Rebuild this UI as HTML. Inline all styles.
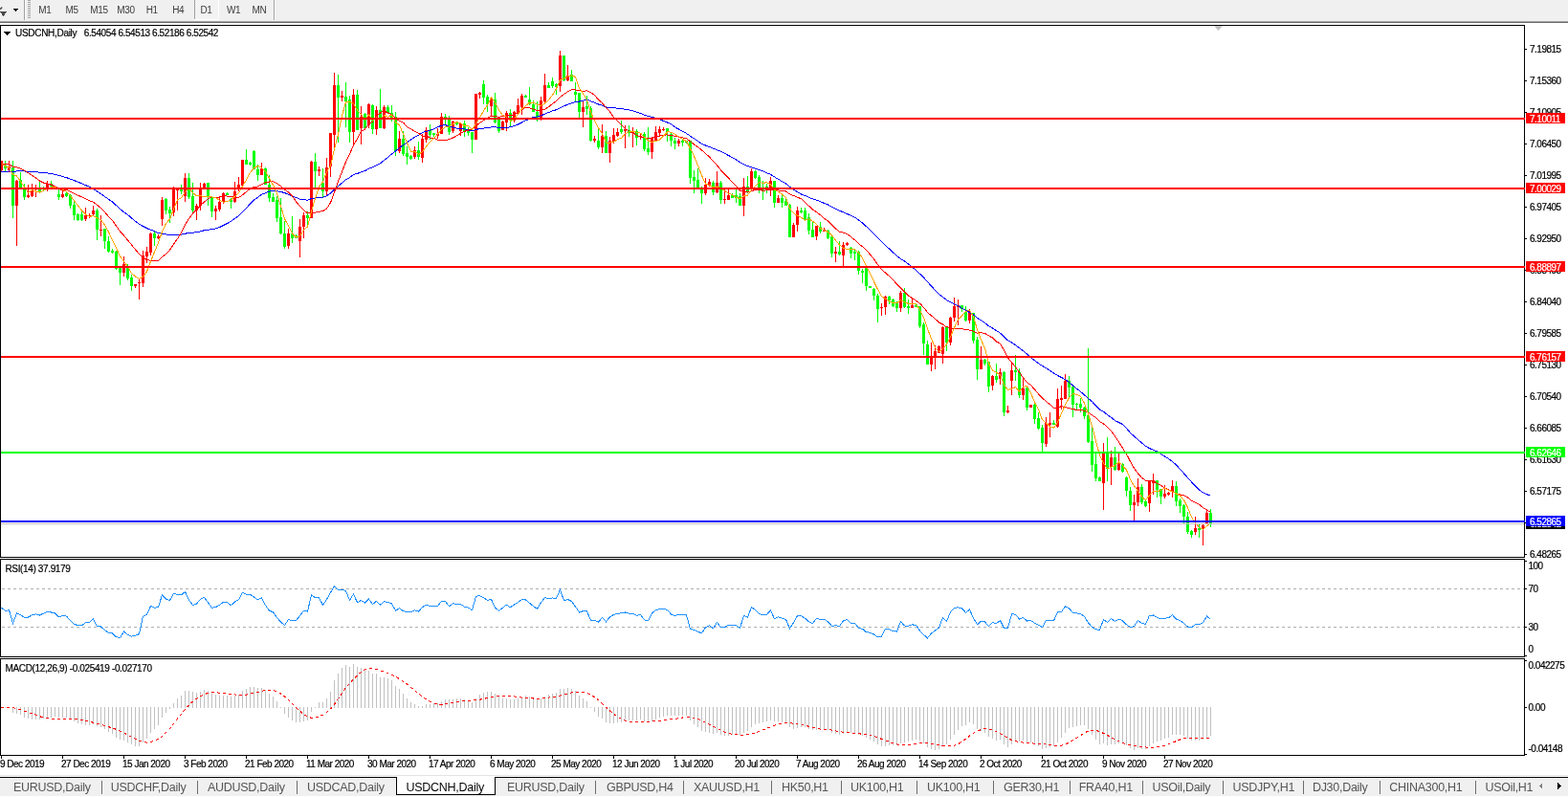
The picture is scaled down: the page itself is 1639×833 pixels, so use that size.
<!DOCTYPE html>
<html><head><meta charset="utf-8"><title>USDCNH,Daily</title>
<style>html,body{margin:0;padding:0;background:#fff;width:1639px;height:833px;overflow:hidden}svg{display:block;position:absolute;left:0;top:0}text{white-space:pre}</style>
</head><body><svg width="1639" height="833" viewBox="0 0 1639 833" shape-rendering="crispEdges" font-family="Liberation Sans, Arial, sans-serif"><rect x="0" y="0" width="1639" height="22" fill="#f0f0f0"/><rect x="0" y="22" width="1639" height="1" fill="#a3a3a3"/><rect x="0" y="23" width="1639" height="1" fill="#6b6b6b"/><path d="M0 12h7l-3.5 5z" fill="#4a4a4a"/><path d="M0 9.5q1.5-0.5 2-2" stroke="#4a4a4a" stroke-width="1.6" fill="none" shape-rendering="auto"/><rect x="14" y="9" width="5" height="1" fill="#000"/><rect x="15" y="10" width="3" height="1" fill="#000"/><rect x="16" y="11" width="1" height="1" fill="#000"/><rect x="25" y="0" width="1" height="21" fill="#a0a0a0"/><rect x="26" y="0" width="1" height="21" fill="#ffffff"/><rect x="29" y="0" width="3" height="1" fill="#a0a0a0"/><rect x="29" y="2" width="3" height="1" fill="#a0a0a0"/><rect x="29" y="4" width="3" height="1" fill="#a0a0a0"/><rect x="29" y="6" width="3" height="1" fill="#a0a0a0"/><rect x="29" y="8" width="3" height="1" fill="#a0a0a0"/><rect x="29" y="10" width="3" height="1" fill="#a0a0a0"/><rect x="29" y="12" width="3" height="1" fill="#a0a0a0"/><rect x="29" y="14" width="3" height="1" fill="#a0a0a0"/><rect x="29" y="16" width="3" height="1" fill="#a0a0a0"/><rect x="29" y="18" width="3" height="1" fill="#a0a0a0"/><rect x="203" y="0" width="1" height="20" fill="#a0a0a0"/><defs><pattern id="dith" width="2" height="2" patternUnits="userSpaceOnUse"><rect width="2" height="2" fill="#fafafa"/><rect width="1" height="1" fill="#ebebeb"/><rect x="1" y="1" width="1" height="1" fill="#ebebeb"/></pattern></defs><rect x="204" y="0" width="24" height="20" fill="url(#dith)"/><rect x="228" y="0" width="1" height="21" fill="#ffffff"/><rect x="203" y="20" width="26" height="1" fill="#ffffff"/><rect x="286" y="0" width="1" height="21" fill="#a0a0a0"/><rect x="287" y="0" width="1" height="21" fill="#ffffff"/><text x="40.3" y="14.3" fill="#3c3c3c" font-size="10" letter-spacing="-0.4">M1</text><text x="68.6" y="14.3" fill="#3c3c3c" font-size="10" letter-spacing="-0.4">M5</text><text x="94.3" y="14.3" fill="#3c3c3c" font-size="10" letter-spacing="-0.4">M15</text><text x="122.3" y="14.3" fill="#3c3c3c" font-size="10" letter-spacing="-0.4">M30</text><text x="152.8" y="14.3" fill="#3c3c3c" font-size="10" letter-spacing="-0.4">H1</text><text x="180.3" y="14.3" fill="#3c3c3c" font-size="10" letter-spacing="-0.4">H4</text><text x="209.5" y="14.3" fill="#3c3c3c" font-size="10" letter-spacing="-0.4">D1</text><text x="237" y="14.3" fill="#3c3c3c" font-size="10" letter-spacing="-0.4">W1</text><text x="263.6" y="14.3" fill="#3c3c3c" font-size="10" letter-spacing="-0.4">MN</text><path d="M4 33h7l-3.5 4z" fill="#000"/><text x="16" y="38" fill="#000" font-size="10" letter-spacing="-0.3" stroke="#000" stroke-width="0.2">USDCNH,Daily</text><text x="87.8" y="38" fill="#000" font-size="10" letter-spacing="-0.41" stroke="#000" stroke-width="0.2">6.54054 6.54513 6.52186 6.52542</text><path d="M1269 27h9l-4.5 5z" fill="#c0c0c0" shape-rendering="auto"/><g><rect x="1" y="168" width="1" height="11" fill="#ff0000"/><rect x="0" y="168" width="3" height="10" fill="#ff0000"/><rect x="5" y="168" width="1" height="12" fill="#00ff00"/><rect x="4" y="173" width="3" height="3" fill="#00ff00"/><rect x="9" y="168" width="1" height="12" fill="#ff0000"/><rect x="8" y="174" width="3" height="4" fill="#ff0000"/><rect x="13" y="168" width="1" height="60" fill="#00ff00"/><rect x="12" y="175" width="3" height="40" fill="#00ff00"/><rect x="17" y="188" width="1" height="69" fill="#ff0000"/><rect x="16" y="189" width="3" height="26" fill="#ff0000"/><rect x="21" y="180" width="1" height="16" fill="#00ff00"/><rect x="20" y="188" width="3" height="8" fill="#00ff00"/><rect x="25" y="192" width="1" height="17" fill="#00ff00"/><rect x="24" y="198" width="3" height="8" fill="#00ff00"/><rect x="29" y="193" width="1" height="14" fill="#ff0000"/><rect x="28" y="204" width="3" height="2" fill="#ff0000"/><rect x="33" y="192" width="1" height="14" fill="#ff0000"/><rect x="32" y="199" width="3" height="6" fill="#ff0000"/><rect x="37" y="193" width="1" height="13" fill="#ff0000"/><rect x="36" y="197" width="3" height="1" fill="#ff0000"/><rect x="41" y="190" width="1" height="11" fill="#00ff00"/><rect x="40" y="198" width="3" height="3" fill="#00ff00"/><rect x="45" y="195" width="1" height="4" fill="#00ff00"/><rect x="44" y="196" width="3" height="1" fill="#00ff00"/><rect x="49" y="189" width="1" height="11" fill="#ff0000"/><rect x="48" y="192" width="3" height="6" fill="#ff0000"/><rect x="53" y="189" width="1" height="6" fill="#00ff00"/><rect x="52" y="192" width="3" height="3" fill="#00ff00"/><rect x="57" y="194" width="1" height="4" fill="#00ff00"/><rect x="56" y="195" width="3" height="2" fill="#00ff00"/><rect x="61" y="198" width="1" height="11" fill="#00ff00"/><rect x="60" y="203" width="3" height="3" fill="#00ff00"/><rect x="65" y="198" width="1" height="9" fill="#ff0000"/><rect x="64" y="203" width="3" height="3" fill="#ff0000"/><rect x="69" y="201" width="1" height="5" fill="#00ff00"/><rect x="68" y="202" width="3" height="3" fill="#00ff00"/><rect x="73" y="203" width="1" height="15" fill="#00ff00"/><rect x="72" y="204" width="3" height="11" fill="#00ff00"/><rect x="77" y="209" width="1" height="21" fill="#00ff00"/><rect x="76" y="214" width="3" height="11" fill="#00ff00"/><rect x="81" y="223" width="1" height="8" fill="#00ff00"/><rect x="80" y="224" width="3" height="6" fill="#00ff00"/><rect x="85" y="219" width="1" height="12" fill="#00ff00"/><rect x="84" y="224" width="3" height="6" fill="#00ff00"/><rect x="89" y="217" width="1" height="14" fill="#ff0000"/><rect x="88" y="225" width="3" height="4" fill="#ff0000"/><rect x="93" y="223" width="1" height="5" fill="#ff0000"/><rect x="92" y="225" width="3" height="1" fill="#ff0000"/><rect x="97" y="215" width="1" height="11" fill="#ff0000"/><rect x="96" y="220" width="3" height="4" fill="#ff0000"/><rect x="101" y="218" width="1" height="33" fill="#00ff00"/><rect x="100" y="220" width="3" height="20" fill="#00ff00"/><rect x="105" y="225" width="1" height="22" fill="#ff0000"/><rect x="104" y="240" width="3" height="1" fill="#ff0000"/><rect x="109" y="239" width="1" height="21" fill="#00ff00"/><rect x="108" y="239" width="3" height="13" fill="#00ff00"/><rect x="113" y="247" width="1" height="17" fill="#00ff00"/><rect x="112" y="252" width="3" height="11" fill="#00ff00"/><rect x="117" y="260" width="1" height="5" fill="#00ff00"/><rect x="116" y="262" width="3" height="2" fill="#00ff00"/><rect x="121" y="262" width="1" height="20" fill="#00ff00"/><rect x="120" y="263" width="3" height="18" fill="#00ff00"/><rect x="125" y="280" width="1" height="18" fill="#00ff00"/><rect x="124" y="280" width="3" height="5" fill="#00ff00"/><rect x="129" y="268" width="1" height="21" fill="#ff0000"/><rect x="128" y="276" width="3" height="9" fill="#ff0000"/><rect x="133" y="276" width="1" height="17" fill="#00ff00"/><rect x="132" y="280" width="3" height="11" fill="#00ff00"/><rect x="137" y="287" width="1" height="17" fill="#00ff00"/><rect x="136" y="290" width="3" height="9" fill="#00ff00"/><rect x="141" y="297" width="1" height="4" fill="#ff0000"/><rect x="140" y="297" width="3" height="2" fill="#ff0000"/><rect x="145" y="291" width="1" height="22" fill="#ff0000"/><rect x="144" y="295" width="3" height="1" fill="#ff0000"/><rect x="149" y="262" width="1" height="38" fill="#ff0000"/><rect x="148" y="267" width="3" height="29" fill="#ff0000"/><rect x="153" y="258" width="1" height="17" fill="#ff0000"/><rect x="152" y="263" width="3" height="5" fill="#ff0000"/><rect x="157" y="243" width="1" height="24" fill="#ff0000"/><rect x="156" y="244" width="3" height="20" fill="#ff0000"/><rect x="161" y="242" width="1" height="15" fill="#00ff00"/><rect x="160" y="244" width="3" height="5" fill="#00ff00"/><rect x="165" y="245" width="1" height="5" fill="#ff0000"/><rect x="164" y="247" width="3" height="2" fill="#ff0000"/><rect x="169" y="206" width="1" height="30" fill="#ff0000"/><rect x="168" y="209" width="3" height="20" fill="#ff0000"/><rect x="173" y="207" width="1" height="17" fill="#00ff00"/><rect x="172" y="208" width="3" height="12" fill="#00ff00"/><rect x="177" y="216" width="1" height="17" fill="#00ff00"/><rect x="176" y="219" width="3" height="4" fill="#00ff00"/><rect x="181" y="195" width="1" height="31" fill="#ff0000"/><rect x="180" y="196" width="3" height="26" fill="#ff0000"/><rect x="185" y="198" width="1" height="22" fill="#ff0000"/><rect x="184" y="198" width="3" height="1" fill="#ff0000"/><rect x="189" y="193" width="1" height="10" fill="#00ff00"/><rect x="188" y="198" width="3" height="2" fill="#00ff00"/><rect x="193" y="181" width="1" height="30" fill="#ff0000"/><rect x="192" y="186" width="3" height="19" fill="#ff0000"/><rect x="197" y="181" width="1" height="27" fill="#00ff00"/><rect x="196" y="186" width="3" height="20" fill="#00ff00"/><rect x="201" y="191" width="1" height="32" fill="#00ff00"/><rect x="200" y="205" width="3" height="15" fill="#00ff00"/><rect x="205" y="213" width="1" height="17" fill="#ff0000"/><rect x="204" y="215" width="3" height="5" fill="#ff0000"/><rect x="209" y="191" width="1" height="29" fill="#ff0000"/><rect x="208" y="198" width="3" height="17" fill="#ff0000"/><rect x="213" y="191" width="1" height="6" fill="#ff0000"/><rect x="212" y="192" width="3" height="5" fill="#ff0000"/><rect x="217" y="191" width="1" height="24" fill="#00ff00"/><rect x="216" y="191" width="3" height="15" fill="#00ff00"/><rect x="221" y="205" width="1" height="22" fill="#00ff00"/><rect x="220" y="206" width="3" height="15" fill="#00ff00"/><rect x="225" y="215" width="1" height="15" fill="#ff0000"/><rect x="224" y="218" width="3" height="3" fill="#ff0000"/><rect x="229" y="205" width="1" height="16" fill="#ff0000"/><rect x="228" y="211" width="3" height="8" fill="#ff0000"/><rect x="233" y="201" width="1" height="12" fill="#ff0000"/><rect x="232" y="202" width="3" height="9" fill="#ff0000"/><rect x="237" y="201" width="1" height="3" fill="#00ff00"/><rect x="236" y="202" width="3" height="2" fill="#00ff00"/><rect x="241" y="207" width="1" height="11" fill="#00ff00"/><rect x="240" y="208" width="3" height="3" fill="#00ff00"/><rect x="245" y="190" width="1" height="22" fill="#ff0000"/><rect x="244" y="200" width="3" height="11" fill="#ff0000"/><rect x="249" y="185" width="1" height="15" fill="#ff0000"/><rect x="248" y="193" width="3" height="5" fill="#ff0000"/><rect x="253" y="167" width="1" height="27" fill="#ff0000"/><rect x="252" y="167" width="3" height="27" fill="#ff0000"/><rect x="257" y="156" width="1" height="16" fill="#00ff00"/><rect x="256" y="167" width="3" height="5" fill="#00ff00"/><rect x="261" y="169" width="1" height="4" fill="#00ff00"/><rect x="260" y="170" width="3" height="2" fill="#00ff00"/><rect x="265" y="157" width="1" height="20" fill="#00ff00"/><rect x="264" y="158" width="3" height="19" fill="#00ff00"/><rect x="269" y="172" width="1" height="17" fill="#00ff00"/><rect x="268" y="177" width="3" height="6" fill="#00ff00"/><rect x="273" y="170" width="1" height="13" fill="#ff0000"/><rect x="272" y="176" width="3" height="7" fill="#ff0000"/><rect x="277" y="175" width="1" height="18" fill="#00ff00"/><rect x="276" y="176" width="3" height="17" fill="#00ff00"/><rect x="281" y="183" width="1" height="28" fill="#00ff00"/><rect x="280" y="193" width="3" height="14" fill="#00ff00"/><rect x="285" y="202" width="1" height="9" fill="#00ff00"/><rect x="284" y="206" width="3" height="5" fill="#00ff00"/><rect x="289" y="205" width="1" height="27" fill="#00ff00"/><rect x="288" y="209" width="3" height="19" fill="#00ff00"/><rect x="293" y="207" width="1" height="38" fill="#00ff00"/><rect x="292" y="227" width="3" height="17" fill="#00ff00"/><rect x="297" y="231" width="1" height="29" fill="#00ff00"/><rect x="296" y="244" width="3" height="14" fill="#00ff00"/><rect x="301" y="239" width="1" height="21" fill="#ff0000"/><rect x="300" y="244" width="3" height="13" fill="#ff0000"/><rect x="305" y="226" width="1" height="28" fill="#00ff00"/><rect x="304" y="244" width="3" height="5" fill="#00ff00"/><rect x="309" y="245" width="1" height="4" fill="#00ff00"/><rect x="308" y="246" width="3" height="3" fill="#00ff00"/><rect x="313" y="229" width="1" height="40" fill="#ff0000"/><rect x="312" y="237" width="3" height="15" fill="#ff0000"/><rect x="317" y="222" width="1" height="27" fill="#ff0000"/><rect x="316" y="225" width="3" height="12" fill="#ff0000"/><rect x="321" y="221" width="1" height="14" fill="#00ff00"/><rect x="320" y="225" width="3" height="3" fill="#00ff00"/><rect x="325" y="168" width="1" height="60" fill="#ff0000"/><rect x="324" y="169" width="3" height="59" fill="#ff0000"/><rect x="329" y="160" width="1" height="38" fill="#00ff00"/><rect x="328" y="169" width="3" height="10" fill="#00ff00"/><rect x="333" y="174" width="1" height="10" fill="#ff0000"/><rect x="332" y="177" width="3" height="2" fill="#ff0000"/><rect x="337" y="176" width="1" height="30" fill="#00ff00"/><rect x="336" y="191" width="3" height="9" fill="#00ff00"/><rect x="341" y="165" width="1" height="40" fill="#ff0000"/><rect x="340" y="175" width="3" height="25" fill="#ff0000"/><rect x="345" y="139" width="1" height="46" fill="#ff0000"/><rect x="344" y="139" width="3" height="35" fill="#ff0000"/><rect x="349" y="76" width="1" height="79" fill="#ff0000"/><rect x="348" y="89" width="3" height="52" fill="#ff0000"/><rect x="353" y="78" width="1" height="71" fill="#00ff00"/><rect x="352" y="89" width="3" height="13" fill="#00ff00"/><rect x="357" y="95" width="1" height="11" fill="#ff0000"/><rect x="356" y="100" width="3" height="2" fill="#ff0000"/><rect x="361" y="86" width="1" height="47" fill="#00ff00"/><rect x="360" y="101" width="3" height="5" fill="#00ff00"/><rect x="365" y="100" width="1" height="49" fill="#00ff00"/><rect x="364" y="104" width="3" height="34" fill="#00ff00"/><rect x="369" y="93" width="1" height="59" fill="#ff0000"/><rect x="368" y="99" width="3" height="39" fill="#ff0000"/><rect x="373" y="94" width="1" height="42" fill="#00ff00"/><rect x="372" y="99" width="3" height="37" fill="#00ff00"/><rect x="377" y="111" width="1" height="40" fill="#ff0000"/><rect x="376" y="122" width="3" height="12" fill="#ff0000"/><rect x="381" y="118" width="1" height="16" fill="#00ff00"/><rect x="380" y="119" width="3" height="15" fill="#00ff00"/><rect x="385" y="108" width="1" height="26" fill="#ff0000"/><rect x="384" y="109" width="3" height="22" fill="#ff0000"/><rect x="389" y="109" width="1" height="31" fill="#00ff00"/><rect x="388" y="110" width="3" height="25" fill="#00ff00"/><rect x="393" y="111" width="1" height="30" fill="#ff0000"/><rect x="392" y="115" width="3" height="20" fill="#ff0000"/><rect x="397" y="93" width="1" height="41" fill="#00ff00"/><rect x="396" y="115" width="3" height="19" fill="#00ff00"/><rect x="401" y="110" width="1" height="25" fill="#ff0000"/><rect x="400" y="112" width="3" height="22" fill="#ff0000"/><rect x="405" y="110" width="1" height="9" fill="#00ff00"/><rect x="404" y="112" width="3" height="6" fill="#00ff00"/><rect x="409" y="110" width="1" height="17" fill="#00ff00"/><rect x="408" y="118" width="3" height="5" fill="#00ff00"/><rect x="413" y="117" width="1" height="46" fill="#00ff00"/><rect x="412" y="122" width="3" height="36" fill="#00ff00"/><rect x="417" y="137" width="1" height="23" fill="#ff0000"/><rect x="416" y="145" width="3" height="13" fill="#ff0000"/><rect x="421" y="137" width="1" height="26" fill="#00ff00"/><rect x="420" y="145" width="3" height="16" fill="#00ff00"/><rect x="425" y="153" width="1" height="19" fill="#00ff00"/><rect x="424" y="160" width="3" height="4" fill="#00ff00"/><rect x="429" y="162" width="1" height="5" fill="#00ff00"/><rect x="428" y="163" width="3" height="3" fill="#00ff00"/><rect x="433" y="153" width="1" height="13" fill="#ff0000"/><rect x="432" y="157" width="3" height="7" fill="#ff0000"/><rect x="437" y="148" width="1" height="19" fill="#00ff00"/><rect x="436" y="157" width="3" height="7" fill="#00ff00"/><rect x="441" y="140" width="1" height="30" fill="#ff0000"/><rect x="440" y="145" width="3" height="20" fill="#ff0000"/><rect x="445" y="133" width="1" height="16" fill="#ff0000"/><rect x="444" y="136" width="3" height="10" fill="#ff0000"/><rect x="449" y="130" width="1" height="16" fill="#00ff00"/><rect x="448" y="136" width="3" height="5" fill="#00ff00"/><rect x="453" y="139" width="1" height="4" fill="#00ff00"/><rect x="452" y="139" width="3" height="2" fill="#00ff00"/><rect x="457" y="134" width="1" height="11" fill="#ff0000"/><rect x="456" y="140" width="3" height="2" fill="#ff0000"/><rect x="461" y="118" width="1" height="22" fill="#ff0000"/><rect x="460" y="122" width="3" height="18" fill="#ff0000"/><rect x="465" y="119" width="1" height="11" fill="#00ff00"/><rect x="464" y="122" width="3" height="1" fill="#00ff00"/><rect x="469" y="121" width="1" height="20" fill="#00ff00"/><rect x="468" y="125" width="3" height="13" fill="#00ff00"/><rect x="473" y="126" width="1" height="13" fill="#ff0000"/><rect x="472" y="127" width="3" height="10" fill="#ff0000"/><rect x="477" y="127" width="1" height="4" fill="#00ff00"/><rect x="476" y="128" width="3" height="2" fill="#00ff00"/><rect x="481" y="128" width="1" height="14" fill="#ff0000"/><rect x="480" y="129" width="3" height="8" fill="#ff0000"/><rect x="485" y="126" width="1" height="17" fill="#00ff00"/><rect x="484" y="129" width="3" height="8" fill="#00ff00"/><rect x="489" y="133" width="1" height="9" fill="#00ff00"/><rect x="488" y="136" width="3" height="3" fill="#00ff00"/><rect x="493" y="138" width="1" height="22" fill="#00ff00"/><rect x="492" y="138" width="3" height="8" fill="#00ff00"/><rect x="497" y="98" width="1" height="48" fill="#ff0000"/><rect x="496" y="98" width="3" height="48" fill="#ff0000"/><rect x="501" y="96" width="1" height="7" fill="#ff0000"/><rect x="500" y="97" width="3" height="2" fill="#ff0000"/><rect x="505" y="84" width="1" height="25" fill="#00ff00"/><rect x="504" y="88" width="3" height="14" fill="#00ff00"/><rect x="509" y="99" width="1" height="18" fill="#00ff00"/><rect x="508" y="101" width="3" height="8" fill="#00ff00"/><rect x="513" y="102" width="1" height="20" fill="#ff0000"/><rect x="512" y="104" width="3" height="7" fill="#ff0000"/><rect x="517" y="97" width="1" height="32" fill="#00ff00"/><rect x="516" y="104" width="3" height="24" fill="#00ff00"/><rect x="521" y="125" width="1" height="14" fill="#00ff00"/><rect x="520" y="125" width="3" height="12" fill="#00ff00"/><rect x="525" y="126" width="1" height="10" fill="#ff0000"/><rect x="524" y="127" width="3" height="9" fill="#ff0000"/><rect x="529" y="116" width="1" height="21" fill="#ff0000"/><rect x="528" y="118" width="3" height="10" fill="#ff0000"/><rect x="533" y="114" width="1" height="19" fill="#00ff00"/><rect x="532" y="118" width="3" height="8" fill="#00ff00"/><rect x="537" y="116" width="1" height="12" fill="#ff0000"/><rect x="536" y="117" width="3" height="9" fill="#ff0000"/><rect x="541" y="103" width="1" height="17" fill="#ff0000"/><rect x="540" y="110" width="3" height="9" fill="#ff0000"/><rect x="545" y="98" width="1" height="22" fill="#ff0000"/><rect x="544" y="100" width="3" height="12" fill="#ff0000"/><rect x="549" y="99" width="1" height="3" fill="#00ff00"/><rect x="548" y="100" width="3" height="2" fill="#00ff00"/><rect x="553" y="91" width="1" height="19" fill="#00ff00"/><rect x="552" y="104" width="3" height="5" fill="#00ff00"/><rect x="557" y="105" width="1" height="12" fill="#00ff00"/><rect x="556" y="109" width="3" height="8" fill="#00ff00"/><rect x="561" y="106" width="1" height="21" fill="#00ff00"/><rect x="560" y="117" width="3" height="6" fill="#00ff00"/><rect x="565" y="101" width="1" height="25" fill="#ff0000"/><rect x="564" y="105" width="3" height="18" fill="#ff0000"/><rect x="569" y="77" width="1" height="31" fill="#ff0000"/><rect x="568" y="89" width="3" height="17" fill="#ff0000"/><rect x="573" y="86" width="1" height="6" fill="#00ff00"/><rect x="572" y="89" width="3" height="3" fill="#00ff00"/><rect x="577" y="81" width="1" height="11" fill="#00ff00"/><rect x="576" y="85" width="3" height="5" fill="#00ff00"/><rect x="581" y="87" width="1" height="12" fill="#00ff00"/><rect x="580" y="88" width="3" height="3" fill="#00ff00"/><rect x="585" y="53" width="1" height="43" fill="#ff0000"/><rect x="584" y="58" width="3" height="32" fill="#ff0000"/><rect x="589" y="58" width="1" height="27" fill="#00ff00"/><rect x="588" y="58" width="3" height="26" fill="#00ff00"/><rect x="593" y="68" width="1" height="17" fill="#ff0000"/><rect x="592" y="79" width="3" height="5" fill="#ff0000"/><rect x="597" y="73" width="1" height="12" fill="#00ff00"/><rect x="596" y="78" width="3" height="7" fill="#00ff00"/><rect x="601" y="86" width="1" height="20" fill="#00ff00"/><rect x="600" y="96" width="3" height="3" fill="#00ff00"/><rect x="605" y="97" width="1" height="26" fill="#00ff00"/><rect x="604" y="97" width="3" height="20" fill="#00ff00"/><rect x="609" y="105" width="1" height="28" fill="#ff0000"/><rect x="608" y="112" width="3" height="5" fill="#ff0000"/><rect x="613" y="100" width="1" height="20" fill="#00ff00"/><rect x="612" y="111" width="3" height="3" fill="#00ff00"/><rect x="617" y="111" width="1" height="37" fill="#00ff00"/><rect x="616" y="113" width="3" height="34" fill="#00ff00"/><rect x="621" y="142" width="1" height="7" fill="#ff0000"/><rect x="620" y="145" width="3" height="2" fill="#ff0000"/><rect x="625" y="135" width="1" height="21" fill="#00ff00"/><rect x="624" y="147" width="3" height="7" fill="#00ff00"/><rect x="629" y="130" width="1" height="30" fill="#ff0000"/><rect x="628" y="142" width="3" height="12" fill="#ff0000"/><rect x="633" y="137" width="1" height="23" fill="#00ff00"/><rect x="632" y="142" width="3" height="18" fill="#00ff00"/><rect x="637" y="143" width="1" height="27" fill="#ff0000"/><rect x="636" y="147" width="3" height="13" fill="#ff0000"/><rect x="641" y="134" width="1" height="16" fill="#ff0000"/><rect x="640" y="141" width="3" height="7" fill="#ff0000"/><rect x="645" y="134" width="1" height="9" fill="#ff0000"/><rect x="644" y="138" width="3" height="4" fill="#ff0000"/><rect x="649" y="126" width="1" height="14" fill="#00ff00"/><rect x="648" y="135" width="3" height="3" fill="#00ff00"/><rect x="653" y="131" width="1" height="24" fill="#ff0000"/><rect x="652" y="135" width="3" height="2" fill="#ff0000"/><rect x="657" y="131" width="1" height="12" fill="#00ff00"/><rect x="656" y="136" width="3" height="3" fill="#00ff00"/><rect x="661" y="133" width="1" height="21" fill="#ff0000"/><rect x="660" y="138" width="3" height="1" fill="#ff0000"/><rect x="665" y="135" width="1" height="17" fill="#00ff00"/><rect x="664" y="137" width="3" height="7" fill="#00ff00"/><rect x="669" y="140" width="1" height="6" fill="#ff0000"/><rect x="668" y="142" width="3" height="1" fill="#ff0000"/><rect x="673" y="138" width="1" height="20" fill="#00ff00"/><rect x="672" y="140" width="3" height="16" fill="#00ff00"/><rect x="677" y="133" width="1" height="29" fill="#00ff00"/><rect x="676" y="155" width="3" height="4" fill="#00ff00"/><rect x="681" y="143" width="1" height="23" fill="#ff0000"/><rect x="680" y="144" width="3" height="15" fill="#ff0000"/><rect x="685" y="132" width="1" height="15" fill="#ff0000"/><rect x="684" y="138" width="3" height="9" fill="#ff0000"/><rect x="689" y="132" width="1" height="10" fill="#ff0000"/><rect x="688" y="135" width="3" height="4" fill="#ff0000"/><rect x="693" y="133" width="1" height="4" fill="#ff0000"/><rect x="692" y="135" width="3" height="1" fill="#ff0000"/><rect x="697" y="134" width="1" height="14" fill="#00ff00"/><rect x="696" y="134" width="3" height="4" fill="#00ff00"/><rect x="701" y="139" width="1" height="14" fill="#00ff00"/><rect x="700" y="140" width="3" height="7" fill="#00ff00"/><rect x="705" y="144" width="1" height="12" fill="#00ff00"/><rect x="704" y="147" width="3" height="3" fill="#00ff00"/><rect x="709" y="145" width="1" height="8" fill="#ff0000"/><rect x="708" y="147" width="3" height="3" fill="#ff0000"/><rect x="713" y="145" width="1" height="8" fill="#00ff00"/><rect x="712" y="147" width="3" height="2" fill="#00ff00"/><rect x="717" y="147" width="1" height="3" fill="#00ff00"/><rect x="716" y="147" width="3" height="2" fill="#00ff00"/><rect x="721" y="147" width="1" height="45" fill="#00ff00"/><rect x="720" y="147" width="3" height="39" fill="#00ff00"/><rect x="725" y="178" width="1" height="24" fill="#00ff00"/><rect x="724" y="185" width="3" height="4" fill="#00ff00"/><rect x="729" y="176" width="1" height="21" fill="#00ff00"/><rect x="728" y="188" width="3" height="8" fill="#00ff00"/><rect x="733" y="195" width="1" height="18" fill="#00ff00"/><rect x="732" y="198" width="3" height="4" fill="#00ff00"/><rect x="737" y="186" width="1" height="18" fill="#ff0000"/><rect x="736" y="193" width="3" height="9" fill="#ff0000"/><rect x="741" y="187" width="1" height="8" fill="#ff0000"/><rect x="740" y="190" width="3" height="4" fill="#ff0000"/><rect x="745" y="189" width="1" height="15" fill="#00ff00"/><rect x="744" y="191" width="3" height="10" fill="#00ff00"/><rect x="749" y="179" width="1" height="23" fill="#ff0000"/><rect x="748" y="191" width="3" height="10" fill="#ff0000"/><rect x="753" y="189" width="1" height="24" fill="#00ff00"/><rect x="752" y="191" width="3" height="18" fill="#00ff00"/><rect x="757" y="198" width="1" height="15" fill="#ff0000"/><rect x="756" y="208" width="3" height="1" fill="#ff0000"/><rect x="761" y="198" width="1" height="11" fill="#ff0000"/><rect x="760" y="204" width="3" height="5" fill="#ff0000"/><rect x="765" y="202" width="1" height="5" fill="#00ff00"/><rect x="764" y="204" width="3" height="3" fill="#00ff00"/><rect x="769" y="198" width="1" height="14" fill="#00ff00"/><rect x="768" y="204" width="3" height="3" fill="#00ff00"/><rect x="773" y="202" width="1" height="13" fill="#00ff00"/><rect x="772" y="205" width="3" height="10" fill="#00ff00"/><rect x="777" y="186" width="1" height="40" fill="#ff0000"/><rect x="776" y="195" width="3" height="20" fill="#ff0000"/><rect x="781" y="184" width="1" height="18" fill="#00ff00"/><rect x="780" y="195" width="3" height="5" fill="#00ff00"/><rect x="785" y="176" width="1" height="23" fill="#ff0000"/><rect x="784" y="179" width="3" height="19" fill="#ff0000"/><rect x="789" y="178" width="1" height="9" fill="#00ff00"/><rect x="788" y="179" width="3" height="7" fill="#00ff00"/><rect x="793" y="183" width="1" height="19" fill="#00ff00"/><rect x="792" y="185" width="3" height="11" fill="#00ff00"/><rect x="797" y="189" width="1" height="20" fill="#00ff00"/><rect x="796" y="197" width="3" height="2" fill="#00ff00"/><rect x="801" y="192" width="1" height="10" fill="#00ff00"/><rect x="800" y="195" width="3" height="3" fill="#00ff00"/><rect x="805" y="185" width="1" height="20" fill="#ff0000"/><rect x="804" y="189" width="3" height="10" fill="#ff0000"/><rect x="809" y="189" width="1" height="28" fill="#00ff00"/><rect x="808" y="189" width="3" height="23" fill="#00ff00"/><rect x="813" y="204" width="1" height="8" fill="#ff0000"/><rect x="812" y="207" width="3" height="5" fill="#ff0000"/><rect x="817" y="204" width="1" height="13" fill="#00ff00"/><rect x="816" y="207" width="3" height="5" fill="#00ff00"/><rect x="821" y="207" width="1" height="8" fill="#00ff00"/><rect x="820" y="210" width="3" height="5" fill="#00ff00"/><rect x="825" y="213" width="1" height="35" fill="#00ff00"/><rect x="824" y="214" width="3" height="34" fill="#00ff00"/><rect x="829" y="233" width="1" height="15" fill="#ff0000"/><rect x="828" y="235" width="3" height="13" fill="#ff0000"/><rect x="833" y="216" width="1" height="26" fill="#ff0000"/><rect x="832" y="220" width="3" height="15" fill="#ff0000"/><rect x="837" y="217" width="1" height="6" fill="#00ff00"/><rect x="836" y="220" width="3" height="2" fill="#00ff00"/><rect x="841" y="217" width="1" height="13" fill="#00ff00"/><rect x="840" y="220" width="3" height="9" fill="#00ff00"/><rect x="845" y="223" width="1" height="22" fill="#00ff00"/><rect x="844" y="227" width="3" height="14" fill="#00ff00"/><rect x="849" y="232" width="1" height="16" fill="#00ff00"/><rect x="848" y="240" width="3" height="8" fill="#00ff00"/><rect x="853" y="236" width="1" height="15" fill="#ff0000"/><rect x="852" y="236" width="3" height="11" fill="#ff0000"/><rect x="857" y="232" width="1" height="12" fill="#00ff00"/><rect x="856" y="237" width="3" height="5" fill="#00ff00"/><rect x="861" y="238" width="1" height="4" fill="#ff0000"/><rect x="860" y="240" width="3" height="2" fill="#ff0000"/><rect x="865" y="240" width="1" height="10" fill="#00ff00"/><rect x="864" y="241" width="3" height="8" fill="#00ff00"/><rect x="869" y="247" width="1" height="22" fill="#00ff00"/><rect x="868" y="247" width="3" height="18" fill="#00ff00"/><rect x="873" y="258" width="1" height="16" fill="#ff0000"/><rect x="872" y="263" width="3" height="2" fill="#ff0000"/><rect x="877" y="252" width="1" height="15" fill="#00ff00"/><rect x="876" y="263" width="3" height="3" fill="#00ff00"/><rect x="881" y="253" width="1" height="26" fill="#ff0000"/><rect x="880" y="256" width="3" height="11" fill="#ff0000"/><rect x="885" y="253" width="1" height="4" fill="#ff0000"/><rect x="884" y="254" width="3" height="2" fill="#ff0000"/><rect x="889" y="258" width="1" height="12" fill="#00ff00"/><rect x="888" y="259" width="3" height="6" fill="#00ff00"/><rect x="893" y="260" width="1" height="12" fill="#00ff00"/><rect x="892" y="263" width="3" height="2" fill="#00ff00"/><rect x="897" y="262" width="1" height="25" fill="#00ff00"/><rect x="896" y="263" width="3" height="20" fill="#00ff00"/><rect x="901" y="281" width="1" height="15" fill="#00ff00"/><rect x="900" y="283" width="3" height="2" fill="#00ff00"/><rect x="905" y="278" width="1" height="26" fill="#00ff00"/><rect x="904" y="280" width="3" height="19" fill="#00ff00"/><rect x="909" y="299" width="1" height="2" fill="#00ff00"/><rect x="908" y="299" width="3" height="2" fill="#00ff00"/><rect x="913" y="301" width="1" height="13" fill="#00ff00"/><rect x="912" y="302" width="3" height="7" fill="#00ff00"/><rect x="917" y="307" width="1" height="30" fill="#00ff00"/><rect x="916" y="309" width="3" height="14" fill="#00ff00"/><rect x="921" y="317" width="1" height="13" fill="#ff0000"/><rect x="920" y="321" width="3" height="1" fill="#ff0000"/><rect x="925" y="309" width="1" height="20" fill="#ff0000"/><rect x="924" y="310" width="3" height="11" fill="#ff0000"/><rect x="929" y="309" width="1" height="9" fill="#00ff00"/><rect x="928" y="310" width="3" height="4" fill="#00ff00"/><rect x="933" y="312" width="1" height="9" fill="#00ff00"/><rect x="932" y="313" width="3" height="7" fill="#00ff00"/><rect x="937" y="315" width="1" height="11" fill="#00ff00"/><rect x="936" y="317" width="3" height="5" fill="#00ff00"/><rect x="941" y="304" width="1" height="22" fill="#ff0000"/><rect x="940" y="306" width="3" height="16" fill="#ff0000"/><rect x="945" y="301" width="1" height="21" fill="#00ff00"/><rect x="944" y="306" width="3" height="15" fill="#00ff00"/><rect x="949" y="313" width="1" height="15" fill="#00ff00"/><rect x="948" y="320" width="3" height="2" fill="#00ff00"/><rect x="953" y="312" width="1" height="10" fill="#ff0000"/><rect x="952" y="319" width="3" height="3" fill="#ff0000"/><rect x="957" y="318" width="1" height="3" fill="#00ff00"/><rect x="956" y="319" width="3" height="2" fill="#00ff00"/><rect x="961" y="320" width="1" height="23" fill="#00ff00"/><rect x="960" y="320" width="3" height="21" fill="#00ff00"/><rect x="965" y="337" width="1" height="34" fill="#00ff00"/><rect x="964" y="339" width="3" height="20" fill="#00ff00"/><rect x="969" y="356" width="1" height="25" fill="#00ff00"/><rect x="968" y="360" width="3" height="21" fill="#00ff00"/><rect x="973" y="358" width="1" height="30" fill="#ff0000"/><rect x="972" y="372" width="3" height="9" fill="#ff0000"/><rect x="977" y="361" width="1" height="25" fill="#ff0000"/><rect x="976" y="367" width="3" height="6" fill="#ff0000"/><rect x="981" y="361" width="1" height="8" fill="#ff0000"/><rect x="980" y="362" width="3" height="7" fill="#ff0000"/><rect x="985" y="341" width="1" height="39" fill="#ff0000"/><rect x="984" y="342" width="3" height="28" fill="#ff0000"/><rect x="989" y="341" width="1" height="26" fill="#00ff00"/><rect x="988" y="342" width="3" height="16" fill="#00ff00"/><rect x="993" y="331" width="1" height="30" fill="#ff0000"/><rect x="992" y="332" width="3" height="26" fill="#ff0000"/><rect x="997" y="311" width="1" height="25" fill="#ff0000"/><rect x="996" y="320" width="3" height="12" fill="#ff0000"/><rect x="1001" y="313" width="1" height="27" fill="#ff0000"/><rect x="1000" y="319" width="3" height="2" fill="#ff0000"/><rect x="1005" y="319" width="1" height="7" fill="#00ff00"/><rect x="1004" y="319" width="3" height="4" fill="#00ff00"/><rect x="1009" y="320" width="1" height="16" fill="#00ff00"/><rect x="1008" y="326" width="3" height="9" fill="#00ff00"/><rect x="1013" y="323" width="1" height="15" fill="#ff0000"/><rect x="1012" y="326" width="3" height="9" fill="#ff0000"/><rect x="1017" y="327" width="1" height="32" fill="#00ff00"/><rect x="1016" y="327" width="3" height="29" fill="#00ff00"/><rect x="1021" y="352" width="1" height="45" fill="#00ff00"/><rect x="1020" y="355" width="3" height="31" fill="#00ff00"/><rect x="1025" y="362" width="1" height="24" fill="#ff0000"/><rect x="1024" y="376" width="3" height="10" fill="#ff0000"/><rect x="1029" y="375" width="1" height="7" fill="#00ff00"/><rect x="1028" y="376" width="3" height="4" fill="#00ff00"/><rect x="1033" y="378" width="1" height="32" fill="#00ff00"/><rect x="1032" y="378" width="3" height="26" fill="#00ff00"/><rect x="1037" y="392" width="1" height="16" fill="#ff0000"/><rect x="1036" y="393" width="3" height="10" fill="#ff0000"/><rect x="1041" y="380" width="1" height="20" fill="#00ff00"/><rect x="1040" y="393" width="3" height="4" fill="#00ff00"/><rect x="1045" y="385" width="1" height="17" fill="#ff0000"/><rect x="1044" y="389" width="3" height="7" fill="#ff0000"/><rect x="1049" y="388" width="1" height="47" fill="#00ff00"/><rect x="1048" y="389" width="3" height="42" fill="#00ff00"/><rect x="1053" y="424" width="1" height="8" fill="#ff0000"/><rect x="1052" y="429" width="3" height="2" fill="#ff0000"/><rect x="1057" y="379" width="1" height="34" fill="#ff0000"/><rect x="1056" y="387" width="3" height="11" fill="#ff0000"/><rect x="1061" y="371" width="1" height="27" fill="#00ff00"/><rect x="1060" y="387" width="3" height="2" fill="#00ff00"/><rect x="1065" y="385" width="1" height="31" fill="#00ff00"/><rect x="1064" y="389" width="3" height="24" fill="#00ff00"/><rect x="1069" y="395" width="1" height="23" fill="#ff0000"/><rect x="1068" y="406" width="3" height="7" fill="#ff0000"/><rect x="1073" y="404" width="1" height="25" fill="#00ff00"/><rect x="1072" y="405" width="3" height="21" fill="#00ff00"/><rect x="1077" y="423" width="1" height="3" fill="#ff0000"/><rect x="1076" y="423" width="3" height="3" fill="#ff0000"/><rect x="1081" y="419" width="1" height="24" fill="#00ff00"/><rect x="1080" y="423" width="3" height="15" fill="#00ff00"/><rect x="1085" y="431" width="1" height="18" fill="#00ff00"/><rect x="1084" y="437" width="3" height="11" fill="#00ff00"/><rect x="1089" y="444" width="1" height="28" fill="#00ff00"/><rect x="1088" y="447" width="3" height="16" fill="#00ff00"/><rect x="1093" y="436" width="1" height="31" fill="#ff0000"/><rect x="1092" y="442" width="3" height="22" fill="#ff0000"/><rect x="1097" y="431" width="1" height="26" fill="#ff0000"/><rect x="1096" y="442" width="3" height="2" fill="#ff0000"/><rect x="1101" y="439" width="1" height="5" fill="#00ff00"/><rect x="1100" y="442" width="3" height="2" fill="#00ff00"/><rect x="1105" y="406" width="1" height="41" fill="#ff0000"/><rect x="1104" y="417" width="3" height="29" fill="#ff0000"/><rect x="1109" y="403" width="1" height="25" fill="#ff0000"/><rect x="1108" y="416" width="3" height="2" fill="#ff0000"/><rect x="1113" y="391" width="1" height="26" fill="#ff0000"/><rect x="1112" y="398" width="3" height="19" fill="#ff0000"/><rect x="1117" y="393" width="1" height="22" fill="#00ff00"/><rect x="1116" y="398" width="3" height="7" fill="#00ff00"/><rect x="1121" y="404" width="1" height="32" fill="#00ff00"/><rect x="1120" y="404" width="3" height="19" fill="#00ff00"/><rect x="1125" y="421" width="1" height="7" fill="#00ff00"/><rect x="1124" y="422" width="3" height="1" fill="#00ff00"/><rect x="1129" y="416" width="1" height="15" fill="#00ff00"/><rect x="1128" y="422" width="3" height="4" fill="#00ff00"/><rect x="1133" y="425" width="1" height="13" fill="#00ff00"/><rect x="1132" y="426" width="3" height="9" fill="#00ff00"/><rect x="1137" y="364" width="1" height="99" fill="#00ff00"/><rect x="1136" y="434" width="3" height="28" fill="#00ff00"/><rect x="1141" y="444" width="1" height="49" fill="#00ff00"/><rect x="1140" y="461" width="3" height="25" fill="#00ff00"/><rect x="1145" y="473" width="1" height="30" fill="#00ff00"/><rect x="1144" y="485" width="3" height="15" fill="#00ff00"/><rect x="1149" y="498" width="1" height="5" fill="#00ff00"/><rect x="1148" y="499" width="3" height="4" fill="#00ff00"/><rect x="1153" y="463" width="1" height="70" fill="#ff0000"/><rect x="1152" y="474" width="3" height="31" fill="#ff0000"/><rect x="1157" y="457" width="1" height="46" fill="#00ff00"/><rect x="1156" y="473" width="3" height="17" fill="#00ff00"/><rect x="1161" y="471" width="1" height="36" fill="#ff0000"/><rect x="1160" y="478" width="3" height="10" fill="#ff0000"/><rect x="1165" y="467" width="1" height="25" fill="#00ff00"/><rect x="1164" y="478" width="3" height="13" fill="#00ff00"/><rect x="1169" y="474" width="1" height="18" fill="#ff0000"/><rect x="1168" y="484" width="3" height="7" fill="#ff0000"/><rect x="1173" y="484" width="1" height="10" fill="#00ff00"/><rect x="1172" y="485" width="3" height="8" fill="#00ff00"/><rect x="1177" y="498" width="1" height="21" fill="#00ff00"/><rect x="1176" y="499" width="3" height="14" fill="#00ff00"/><rect x="1181" y="509" width="1" height="25" fill="#00ff00"/><rect x="1180" y="513" width="3" height="15" fill="#00ff00"/><rect x="1185" y="517" width="1" height="27" fill="#ff0000"/><rect x="1184" y="525" width="3" height="3" fill="#ff0000"/><rect x="1189" y="500" width="1" height="29" fill="#ff0000"/><rect x="1188" y="509" width="3" height="16" fill="#ff0000"/><rect x="1193" y="506" width="1" height="21" fill="#00ff00"/><rect x="1192" y="509" width="3" height="16" fill="#00ff00"/><rect x="1197" y="523" width="1" height="7" fill="#00ff00"/><rect x="1196" y="524" width="3" height="5" fill="#00ff00"/><rect x="1201" y="502" width="1" height="33" fill="#ff0000"/><rect x="1200" y="503" width="3" height="23" fill="#ff0000"/><rect x="1205" y="495" width="1" height="22" fill="#ff0000"/><rect x="1204" y="502" width="3" height="3" fill="#ff0000"/><rect x="1209" y="502" width="1" height="18" fill="#00ff00"/><rect x="1208" y="502" width="3" height="10" fill="#00ff00"/><rect x="1213" y="511" width="1" height="16" fill="#00ff00"/><rect x="1212" y="511" width="3" height="8" fill="#00ff00"/><rect x="1217" y="507" width="1" height="14" fill="#ff0000"/><rect x="1216" y="516" width="3" height="3" fill="#ff0000"/><rect x="1221" y="514" width="1" height="4" fill="#ff0000"/><rect x="1220" y="515" width="3" height="2" fill="#ff0000"/><rect x="1225" y="502" width="1" height="18" fill="#ff0000"/><rect x="1224" y="508" width="3" height="6" fill="#ff0000"/><rect x="1229" y="503" width="1" height="26" fill="#00ff00"/><rect x="1228" y="508" width="3" height="16" fill="#00ff00"/><rect x="1233" y="521" width="1" height="15" fill="#00ff00"/><rect x="1232" y="523" width="3" height="6" fill="#00ff00"/><rect x="1237" y="527" width="1" height="21" fill="#00ff00"/><rect x="1236" y="528" width="3" height="12" fill="#00ff00"/><rect x="1241" y="535" width="1" height="23" fill="#00ff00"/><rect x="1240" y="540" width="3" height="16" fill="#00ff00"/><rect x="1245" y="554" width="1" height="8" fill="#00ff00"/><rect x="1244" y="555" width="3" height="4" fill="#00ff00"/><rect x="1249" y="540" width="1" height="19" fill="#ff0000"/><rect x="1248" y="552" width="3" height="4" fill="#ff0000"/><rect x="1253" y="547" width="1" height="15" fill="#00ff00"/><rect x="1252" y="552" width="3" height="2" fill="#00ff00"/><rect x="1257" y="548" width="1" height="22" fill="#ff0000"/><rect x="1256" y="549" width="3" height="4" fill="#ff0000"/><rect x="1261" y="534" width="1" height="14" fill="#ff0000"/><rect x="1260" y="536" width="3" height="12" fill="#ff0000"/><rect x="1265" y="532" width="1" height="19" fill="#00ff00"/><rect x="1264" y="536" width="3" height="11" fill="#00ff00"/></g><polyline points="1.5,179.90 5.5,179.65 9.5,179.00 13.5,179.42 17.5,178.94 21.5,178.74 25.5,178.96 29.5,179.27 33.5,179.52 37.5,179.74 41.5,180.14 45.5,180.51 49.5,180.88 53.5,181.46 57.5,182.23 61.5,183.40 65.5,184.55 69.5,185.69 73.5,187.04 77.5,188.56 81.5,190.19 85.5,191.89 89.5,193.57 93.5,195.40 97.5,197.30 101.5,200.01 105.5,202.69 109.5,205.46 113.5,208.31 117.5,211.03 121.5,214.77 125.5,218.40 129.5,221.80 133.5,224.33 137.5,227.97 141.5,231.37 145.5,234.37 149.5,236.47 153.5,238.60 157.5,240.17 161.5,241.77 165.5,243.47 169.5,244.03 173.5,244.87 177.5,245.73 181.5,245.43 185.5,245.27 189.5,245.10 193.5,244.17 197.5,243.53 201.5,243.20 205.5,242.73 209.5,241.83 213.5,240.73 217.5,240.23 221.5,239.60 225.5,238.87 229.5,237.53 233.5,235.53 237.5,233.53 241.5,231.20 245.5,228.40 249.5,225.63 253.5,221.53 257.5,217.30 261.5,213.10 265.5,209.13 269.5,206.30 273.5,203.40 277.5,201.67 281.5,200.27 285.5,199.03 289.5,199.63 293.5,200.43 297.5,201.60 301.5,203.20 305.5,204.87 309.5,206.50 313.5,208.20 317.5,208.87 321.5,209.13 325.5,207.60 329.5,206.93 333.5,206.43 337.5,206.23 341.5,204.73 345.5,202.10 349.5,198.03 353.5,194.67 357.5,191.23 361.5,187.73 365.5,185.63 369.5,182.50 373.5,181.43 377.5,179.80 381.5,178.53 385.5,176.30 389.5,174.70 393.5,172.67 397.5,170.70 401.5,167.57 405.5,164.47 409.5,160.97 413.5,158.10 417.5,154.37 421.5,151.57 425.5,148.73 429.5,145.97 433.5,143.30 437.5,141.23 441.5,138.50 445.5,137.40 449.5,136.13 453.5,134.90 457.5,132.93 461.5,131.17 465.5,130.60 469.5,132.20 473.5,133.07 477.5,134.03 481.5,134.83 485.5,134.80 489.5,136.10 493.5,136.43 497.5,135.63 501.5,134.43 505.5,134.17 509.5,133.30 513.5,132.93 517.5,132.73 521.5,133.53 525.5,133.87 529.5,133.73 533.5,132.67 537.5,131.73 541.5,130.07 545.5,127.97 549.5,125.83 553.5,124.20 557.5,122.63 561.5,121.87 565.5,120.83 569.5,119.13 573.5,117.50 577.5,115.80 581.5,114.73 585.5,112.60 589.5,110.80 593.5,109.20 597.5,107.70 601.5,106.67 605.5,106.00 609.5,105.13 613.5,104.07 617.5,105.67 621.5,107.27 625.5,109.00 629.5,110.13 633.5,111.97 637.5,112.63 641.5,112.80 645.5,113.17 649.5,113.80 653.5,114.13 657.5,114.83 661.5,115.77 665.5,117.20 669.5,118.57 673.5,120.13 677.5,121.53 681.5,122.27 685.5,123.37 689.5,124.90 693.5,126.37 697.5,127.97 701.5,129.83 705.5,132.87 709.5,135.00 713.5,137.30 717.5,139.43 721.5,142.33 725.5,144.73 729.5,147.50 733.5,150.43 737.5,152.00 741.5,153.50 745.5,155.07 749.5,156.70 753.5,158.33 757.5,160.37 761.5,162.47 765.5,164.73 769.5,167.03 773.5,169.67 777.5,171.57 781.5,173.60 785.5,174.80 789.5,176.23 793.5,177.57 797.5,178.90 801.5,180.67 805.5,182.37 809.5,184.90 813.5,187.30 817.5,189.77 821.5,192.03 825.5,195.30 829.5,198.23 833.5,200.63 837.5,203.07 841.5,204.50 845.5,206.23 849.5,207.97 853.5,209.13 857.5,210.73 861.5,212.40 865.5,214.00 869.5,216.43 873.5,218.27 877.5,220.17 881.5,221.90 885.5,223.50 889.5,225.43 893.5,227.10 897.5,230.00 901.5,232.83 905.5,236.80 909.5,240.63 913.5,244.40 917.5,248.53 921.5,252.67 925.5,256.70 929.5,260.10 933.5,263.83 937.5,267.50 941.5,270.57 945.5,273.00 949.5,275.87 953.5,279.17 957.5,282.47 961.5,286.20 965.5,290.13 969.5,294.57 973.5,299.10 977.5,303.30 981.5,307.37 985.5,310.50 989.5,313.60 993.5,315.90 997.5,317.73 1001.5,319.83 1005.5,322.10 1009.5,324.43 1013.5,326.50 1017.5,328.93 1021.5,332.30 1025.5,334.90 1029.5,337.53 1033.5,340.70 1037.5,343.07 1041.5,345.57 1045.5,348.20 1049.5,352.10 1053.5,355.77 1057.5,357.97 1061.5,360.70 1065.5,363.77 1069.5,366.60 1073.5,370.13 1077.5,373.57 1081.5,376.80 1085.5,379.77 1089.5,382.50 1093.5,384.83 1097.5,387.33 1101.5,390.03 1105.5,392.53 1109.5,394.50 1113.5,396.70 1117.5,399.50 1121.5,402.93 1125.5,406.27 1129.5,409.30 1133.5,412.90 1137.5,416.43 1141.5,419.77 1145.5,423.87 1149.5,427.97 1153.5,430.33 1157.5,433.53 1161.5,436.27 1165.5,439.63 1169.5,441.43 1173.5,443.53 1177.5,447.70 1181.5,452.33 1185.5,456.10 1189.5,459.53 1193.5,462.83 1197.5,466.33 1201.5,468.53 1205.5,470.37 1209.5,472.00 1213.5,474.53 1217.5,477.00 1221.5,479.40 1225.5,482.43 1229.5,486.00 1233.5,490.33 1237.5,494.83 1241.5,499.27 1245.5,503.80 1249.5,508.03 1253.5,512.00 1257.5,514.93 1261.5,516.63 1265.5,518.20" fill="none" stroke="#0000ff" stroke-width="1" shape-rendering="crispEdges"/><polyline points="1.5,171.31 5.5,171.69 9.5,171.72 13.5,174.28 17.5,174.91 21.5,176.13 25.5,178.29 29.5,180.72 33.5,183.29 37.5,186.10 41.5,188.97 45.5,190.99 49.5,192.08 53.5,193.00 57.5,195.00 61.5,197.14 65.5,199.21 69.5,198.50 73.5,200.29 77.5,202.36 81.5,204.07 85.5,205.86 89.5,207.71 93.5,209.71 97.5,211.14 101.5,214.21 105.5,217.64 109.5,221.71 113.5,226.43 117.5,230.57 121.5,236.07 125.5,241.79 129.5,246.21 133.5,250.93 137.5,255.86 141.5,260.71 145.5,265.71 149.5,268.71 153.5,271.79 157.5,272.14 161.5,272.71 165.5,272.43 169.5,268.64 173.5,265.50 177.5,261.36 181.5,255.07 185.5,249.50 189.5,243.00 193.5,235.00 197.5,228.43 201.5,223.00 205.5,219.29 209.5,214.64 213.5,210.93 217.5,207.86 221.5,205.93 225.5,206.57 229.5,206.00 233.5,204.57 237.5,205.07 241.5,205.93 245.5,206.00 249.5,206.50 253.5,203.79 257.5,200.36 261.5,197.21 265.5,195.64 269.5,194.93 273.5,192.86 277.5,190.86 281.5,190.00 285.5,189.93 289.5,191.71 293.5,194.57 297.5,197.93 301.5,201.07 305.5,205.00 309.5,210.79 313.5,215.50 317.5,219.36 321.5,223.00 325.5,222.07 329.5,222.21 333.5,221.14 337.5,220.64 341.5,218.14 345.5,211.86 349.5,200.86 353.5,189.71 357.5,179.43 361.5,169.21 365.5,161.29 369.5,151.43 373.5,145.00 377.5,137.50 381.5,134.93 385.5,130.00 389.5,126.93 393.5,120.93 397.5,117.93 401.5,116.00 405.5,118.00 409.5,119.50 413.5,123.57 417.5,126.43 421.5,128.07 425.5,132.64 429.5,134.79 433.5,137.29 437.5,139.43 441.5,142.00 445.5,142.14 449.5,143.93 453.5,144.43 457.5,146.43 461.5,146.79 465.5,146.79 469.5,145.36 473.5,144.07 477.5,141.86 481.5,139.43 485.5,137.36 489.5,136.00 493.5,134.71 497.5,131.36 501.5,128.57 505.5,125.79 509.5,123.50 513.5,120.93 517.5,121.29 521.5,122.29 525.5,121.57 529.5,120.93 533.5,120.64 537.5,119.79 541.5,117.93 545.5,115.21 549.5,112.07 553.5,112.79 557.5,114.14 561.5,115.64 565.5,115.43 569.5,114.36 573.5,111.79 577.5,108.43 581.5,105.79 585.5,101.50 589.5,98.50 593.5,95.79 597.5,93.93 601.5,93.79 605.5,94.86 609.5,95.14 613.5,94.93 617.5,96.64 621.5,99.50 625.5,104.07 629.5,107.71 633.5,112.71 637.5,116.79 641.5,122.71 645.5,126.64 649.5,130.79 653.5,134.43 657.5,137.29 661.5,138.86 665.5,141.07 669.5,143.14 673.5,143.79 677.5,144.71 681.5,144.07 685.5,143.79 689.5,142.07 693.5,141.21 697.5,140.93 701.5,141.50 705.5,142.36 709.5,143.21 713.5,143.93 717.5,144.64 721.5,147.64 725.5,150.93 729.5,153.79 733.5,156.86 737.5,160.36 741.5,164.07 745.5,168.71 749.5,172.71 753.5,177.79 757.5,182.21 761.5,186.14 765.5,190.36 769.5,194.50 773.5,199.21 777.5,199.93 781.5,200.71 785.5,199.57 789.5,198.43 793.5,198.57 797.5,199.14 801.5,198.93 805.5,198.79 809.5,199.00 813.5,198.93 817.5,199.43 821.5,200.00 825.5,202.93 829.5,204.43 833.5,206.21 837.5,207.79 841.5,211.29 845.5,215.21 849.5,218.93 853.5,221.64 857.5,224.79 861.5,228.43 865.5,231.07 869.5,235.14 873.5,238.86 877.5,242.50 881.5,243.14 885.5,244.50 889.5,247.64 893.5,250.71 897.5,254.57 901.5,257.71 905.5,261.36 909.5,265.93 913.5,270.71 917.5,276.57 921.5,281.79 925.5,285.07 929.5,288.64 933.5,292.50 937.5,297.14 941.5,300.86 945.5,304.86 949.5,308.93 953.5,311.57 957.5,314.14 961.5,317.14 965.5,321.29 969.5,326.43 973.5,330.00 977.5,333.29 981.5,337.00 985.5,339.07 989.5,341.79 993.5,342.57 997.5,343.57 1001.5,343.50 1005.5,343.57 1009.5,344.64 1013.5,345.07 1017.5,346.14 1021.5,348.07 1025.5,347.79 1029.5,348.29 1033.5,350.86 1037.5,353.07 1041.5,356.93 1045.5,359.21 1049.5,366.21 1053.5,374.00 1057.5,378.86 1061.5,383.57 1065.5,389.14 1069.5,394.86 1073.5,399.86 1077.5,402.57 1081.5,406.93 1085.5,411.79 1089.5,416.00 1093.5,419.50 1097.5,422.79 1101.5,426.64 1105.5,425.71 1109.5,424.79 1113.5,425.57 1117.5,426.71 1121.5,427.43 1125.5,428.57 1129.5,428.57 1133.5,429.36 1137.5,431.07 1141.5,433.79 1145.5,436.43 1149.5,440.71 1153.5,443.00 1157.5,446.29 1161.5,450.64 1165.5,455.93 1169.5,462.07 1173.5,468.36 1177.5,474.79 1181.5,482.29 1185.5,489.43 1189.5,494.79 1193.5,499.29 1197.5,502.36 1201.5,502.64 1205.5,502.64 1209.5,505.29 1213.5,507.36 1217.5,510.07 1221.5,511.86 1225.5,513.57 1229.5,515.79 1233.5,516.93 1237.5,517.79 1241.5,519.93 1245.5,523.43 1249.5,525.43 1253.5,527.21 1257.5,530.50 1261.5,532.93 1265.5,535.43" fill="none" stroke="#ff0000" stroke-width="1" shape-rendering="crispEdges"/><polyline points="1.5,170.67 5.5,173.73 9.5,174.97 13.5,182.44 17.5,184.00 21.5,189.40 25.5,195.40 29.5,201.40 33.5,198.40 37.5,200.00 41.5,201.00 45.5,199.20 49.5,196.80 53.5,195.80 57.5,195.60 61.5,196.60 65.5,198.00 69.5,200.40 73.5,204.40 77.5,210.00 81.5,214.80 85.5,220.00 89.5,224.20 93.5,226.40 97.5,225.60 101.5,227.60 105.5,229.80 109.5,235.00 113.5,242.40 117.5,251.00 121.5,259.20 125.5,268.00 129.5,273.00 133.5,278.60 137.5,285.60 141.5,289.00 145.5,291.20 149.5,289.40 153.5,284.00 157.5,273.20 161.5,263.40 165.5,253.80 169.5,242.20 173.5,233.40 177.5,229.00 181.5,218.60 185.5,208.80 189.5,206.80 193.5,200.20 197.5,196.80 201.5,201.40 205.5,204.80 209.5,204.60 213.5,205.80 217.5,205.80 221.5,206.00 225.5,206.60 229.5,209.20 233.5,211.20 237.5,210.80 241.5,208.80 245.5,205.20 249.5,201.60 253.5,194.60 257.5,188.20 261.5,180.40 265.5,175.60 269.5,173.40 273.5,175.20 277.5,179.40 281.5,186.40 285.5,193.20 289.5,202.20 293.5,215.60 297.5,228.60 301.5,236.20 305.5,243.80 309.5,248.00 313.5,246.80 317.5,240.40 321.5,237.00 325.5,221.20 329.5,207.20 333.5,195.20 337.5,190.00 341.5,179.60 345.5,173.60 349.5,155.80 353.5,140.60 357.5,120.80 361.5,106.80 365.5,106.40 369.5,108.40 373.5,115.20 377.5,119.60 381.5,125.20 385.5,119.60 389.5,126.60 393.5,122.60 397.5,124.80 401.5,120.60 405.5,122.20 409.5,119.80 413.5,128.20 417.5,130.60 421.5,140.20 425.5,149.40 429.5,158.00 433.5,158.00 437.5,161.60 441.5,158.60 445.5,153.20 449.5,148.20 453.5,144.80 457.5,140.20 461.5,135.60 465.5,132.80 469.5,132.20 473.5,129.60 477.5,127.40 481.5,128.80 485.5,131.60 489.5,131.80 493.5,135.40 497.5,129.20 501.5,122.80 505.5,115.80 509.5,109.80 513.5,101.60 517.5,107.40 521.5,115.20 525.5,120.40 529.5,122.40 533.5,126.60 537.5,124.60 541.5,119.40 545.5,114.00 549.5,110.60 553.5,107.20 557.5,107.00 561.5,109.40 565.5,110.40 569.5,108.00 573.5,104.60 577.5,99.20 581.5,92.80 585.5,83.40 589.5,82.20 593.5,79.80 597.5,78.80 601.5,80.40 605.5,92.00 609.5,97.80 613.5,104.60 617.5,117.00 621.5,126.40 625.5,133.80 629.5,139.80 633.5,149.00 637.5,149.20 641.5,148.40 645.5,145.40 649.5,144.40 653.5,139.60 657.5,137.80 661.5,137.20 665.5,138.20 669.5,139.20 673.5,143.20 677.5,147.20 681.5,148.40 685.5,147.40 689.5,146.00 693.5,142.00 697.5,137.80 701.5,138.20 705.5,140.40 709.5,142.80 713.5,145.40 717.5,147.60 721.5,155.40 725.5,163.20 729.5,172.80 733.5,183.40 737.5,192.40 741.5,193.40 745.5,195.80 749.5,195.00 753.5,196.40 757.5,199.40 761.5,202.20 765.5,203.40 769.5,206.40 773.5,207.60 777.5,205.00 781.5,204.00 785.5,198.60 789.5,194.40 793.5,190.60 797.5,191.20 801.5,190.80 805.5,192.80 809.5,198.00 813.5,200.40 817.5,203.00 821.5,206.40 825.5,218.00 829.5,222.80 833.5,225.40 837.5,227.40 841.5,230.20 845.5,228.80 849.5,231.20 853.5,234.40 857.5,238.40 861.5,240.80 865.5,242.40 869.5,245.80 873.5,251.20 877.5,256.00 881.5,259.20 885.5,260.40 889.5,260.40 893.5,260.60 897.5,264.00 901.5,269.60 905.5,278.40 909.5,285.60 913.5,294.40 917.5,302.40 921.5,309.80 925.5,312.20 929.5,314.80 933.5,317.00 937.5,316.80 941.5,313.80 945.5,315.80 949.5,317.40 953.5,317.40 957.5,317.20 961.5,324.00 965.5,331.60 969.5,343.40 973.5,354.00 977.5,363.40 981.5,367.80 985.5,364.60 989.5,360.00 993.5,352.00 997.5,342.60 1001.5,334.00 1005.5,330.00 1009.5,325.40 1013.5,324.20 1017.5,331.20 1021.5,344.40 1025.5,355.20 1029.5,364.20 1033.5,379.60 1037.5,387.20 1041.5,389.40 1045.5,392.00 1049.5,402.20 1053.5,407.40 1057.5,406.20 1061.5,404.60 1065.5,409.20 1069.5,404.40 1073.5,403.60 1077.5,410.80 1081.5,420.60 1085.5,427.60 1089.5,438.80 1093.5,442.20 1097.5,446.00 1101.5,447.20 1105.5,441.20 1109.5,432.00 1113.5,423.20 1117.5,415.60 1121.5,411.40 1125.5,412.40 1129.5,414.20 1133.5,421.40 1137.5,432.80 1141.5,445.40 1145.5,460.80 1149.5,476.20 1153.5,484.20 1157.5,489.80 1161.5,488.40 1165.5,486.60 1169.5,483.00 1173.5,486.60 1177.5,491.20 1181.5,501.00 1185.5,508.00 1189.5,513.00 1193.5,519.40 1197.5,522.60 1201.5,517.80 1205.5,513.20 1209.5,513.60 1213.5,512.40 1217.5,510.00 1221.5,512.40 1225.5,513.60 1229.5,516.00 1233.5,518.00 1237.5,522.60 1241.5,530.60 1245.5,540.60 1249.5,546.40 1253.5,551.40 1257.5,553.40 1261.5,549.60 1265.5,547.20" fill="none" stroke="#ffa500" stroke-width="1" shape-rendering="crispEdges"/><rect x="0" y="26" width="1594" height="1" fill="#000"/><rect x="0" y="26" width="1" height="557" fill="#000"/><rect x="0" y="584" width="1" height="103" fill="#000"/><rect x="0" y="688" width="1" height="102" fill="#000"/><rect x="1593" y="26" width="1" height="557" fill="#000"/><rect x="0" y="582" width="1594" height="1" fill="#000"/><rect x="0" y="584" width="1594" height="1" fill="#000"/><rect x="1593" y="584" width="1" height="103" fill="#000"/><rect x="0" y="686" width="1594" height="1" fill="#000"/><rect x="0" y="688" width="1594" height="1" fill="#000"/><rect x="1593" y="688" width="1" height="102" fill="#000"/><rect x="0" y="789" width="1594" height="1" fill="#000"/><rect x="1" y="547" width="1592" height="1" fill="#c0c0c0"/><rect x="1" y="123" width="1593" height="2" fill="#ff0000"/><rect x="1" y="196" width="1593" height="2" fill="#ff0000"/><rect x="1" y="278" width="1593" height="2" fill="#ff0000"/><rect x="1" y="372" width="1593" height="2" fill="#ff0000"/><rect x="1" y="472" width="1593" height="2" fill="#00ff00"/><rect x="1" y="544" width="1593" height="2" fill="#0000ff"/><rect x="1594" y="51" width="2" height="1" fill="#000"/><text x="1599" y="55" fill="#000" font-size="10" letter-spacing="-0.5" stroke="#000" stroke-width="0.2">7.19815</text><rect x="1594" y="84" width="2" height="1" fill="#000"/><text x="1599" y="88" fill="#000" font-size="10" letter-spacing="-0.5" stroke="#000" stroke-width="0.2">7.15360</text><rect x="1594" y="117" width="2" height="1" fill="#000"/><text x="1599" y="121" fill="#000" font-size="10" letter-spacing="-0.5" stroke="#000" stroke-width="0.2">7.10905</text><rect x="1594" y="150" width="2" height="1" fill="#000"/><text x="1599" y="154" fill="#000" font-size="10" letter-spacing="-0.5" stroke="#000" stroke-width="0.2">7.06450</text><rect x="1594" y="183" width="2" height="1" fill="#000"/><text x="1599" y="187" fill="#000" font-size="10" letter-spacing="-0.5" stroke="#000" stroke-width="0.2">7.01995</text><rect x="1594" y="216" width="2" height="1" fill="#000"/><text x="1599" y="220" fill="#000" font-size="10" letter-spacing="-0.5" stroke="#000" stroke-width="0.2">6.97405</text><rect x="1594" y="249" width="2" height="1" fill="#000"/><text x="1599" y="253" fill="#000" font-size="10" letter-spacing="-0.5" stroke="#000" stroke-width="0.2">6.92950</text><rect x="1594" y="282" width="2" height="1" fill="#000"/><text x="1599" y="286" fill="#000" font-size="10" letter-spacing="-0.5" stroke="#000" stroke-width="0.2">6.88495</text><rect x="1594" y="315" width="2" height="1" fill="#000"/><text x="1599" y="319" fill="#000" font-size="10" letter-spacing="-0.5" stroke="#000" stroke-width="0.2">6.84040</text><rect x="1594" y="348" width="2" height="1" fill="#000"/><text x="1599" y="352" fill="#000" font-size="10" letter-spacing="-0.5" stroke="#000" stroke-width="0.2">6.79585</text><rect x="1594" y="381" width="2" height="1" fill="#000"/><text x="1599" y="385" fill="#000" font-size="10" letter-spacing="-0.5" stroke="#000" stroke-width="0.2">6.75130</text><rect x="1594" y="414" width="2" height="1" fill="#000"/><text x="1599" y="418" fill="#000" font-size="10" letter-spacing="-0.5" stroke="#000" stroke-width="0.2">6.70540</text><rect x="1594" y="447" width="2" height="1" fill="#000"/><text x="1599" y="451" fill="#000" font-size="10" letter-spacing="-0.5" stroke="#000" stroke-width="0.2">6.66085</text><rect x="1594" y="480" width="2" height="1" fill="#000"/><text x="1599" y="484" fill="#000" font-size="10" letter-spacing="-0.5" stroke="#000" stroke-width="0.2">6.61630</text><rect x="1594" y="513" width="2" height="1" fill="#000"/><text x="1599" y="517" fill="#000" font-size="10" letter-spacing="-0.5" stroke="#000" stroke-width="0.2">6.57175</text><rect x="1594" y="546" width="2" height="1" fill="#000"/><text x="1599" y="550" fill="#000" font-size="10" letter-spacing="-0.5" stroke="#000" stroke-width="0.2">6.52720</text><rect x="1594" y="579" width="2" height="1" fill="#000"/><text x="1599" y="583" fill="#000" font-size="10" letter-spacing="-0.5" stroke="#000" stroke-width="0.2">6.48265</text><rect x="1595" y="542" width="41" height="11" fill="#000"/><text x="1599" y="551" fill="#fff" font-size="10" letter-spacing="-0.5" stroke="#fff" stroke-width="0.2">6.52542</text><rect x="1595" y="118" width="41" height="11" fill="#ff0000"/><text x="1599" y="128" fill="#fff" font-size="10" letter-spacing="-0.5" stroke="#fff" stroke-width="0.2">7.10011</text><rect x="1595" y="191" width="41" height="11" fill="#ff0000"/><text x="1599" y="201" fill="#fff" font-size="10" letter-spacing="-0.5" stroke="#fff" stroke-width="0.2">7.00029</text><rect x="1595" y="273" width="41" height="11" fill="#ff0000"/><text x="1599" y="283" fill="#fff" font-size="10" letter-spacing="-0.5" stroke="#fff" stroke-width="0.2">6.88897</text><rect x="1595" y="367" width="41" height="11" fill="#ff0000"/><text x="1599" y="377" fill="#fff" font-size="10" letter-spacing="-0.5" stroke="#fff" stroke-width="0.2">6.76157</text><rect x="1595" y="467" width="41" height="11" fill="#00ff00"/><text x="1599" y="477" fill="#fff" font-size="10" letter-spacing="-0.5" stroke="#fff" stroke-width="0.2">6.62646</text><rect x="1595" y="539" width="41" height="11" fill="#0000ff"/><text x="1599" y="549" fill="#fff" font-size="10" letter-spacing="-0.5" stroke="#fff" stroke-width="0.2">6.52865</text><text x="5.5" y="597.6" fill="#000" font-size="10" letter-spacing="-0.36" stroke="#000" stroke-width="0.2">RSI(14) 37.9179</text><line x1="2" y1="615.5" x2="1593" y2="615.5" stroke="#b0b0b0" stroke-dasharray="3,3"/><line x1="2" y1="655.5" x2="1593" y2="655.5" stroke="#b0b0b0" stroke-dasharray="3,3"/><polyline points="1.5,635.24 5.5,638.27 9.5,637.79 13.5,651.30 17.5,640.84 21.5,642.61 25.5,645.46 29.5,645.04 33.5,642.86 37.5,641.97 41.5,643.04 45.5,641.09 49.5,639.14 53.5,640.01 57.5,640.91 61.5,644.80 65.5,643.60 69.5,644.05 73.5,648.41 77.5,652.17 81.5,653.89 85.5,653.89 89.5,650.77 93.5,650.77 97.5,646.73 101.5,654.59 105.5,654.94 109.5,658.56 113.5,661.60 117.5,661.86 121.5,665.79 125.5,666.58 129.5,660.09 133.5,663.42 137.5,665.06 141.5,664.27 145.5,662.62 149.5,644.16 153.5,642.09 157.5,633.44 161.5,635.19 165.5,634.75 169.5,621.64 173.5,626.17 177.5,627.49 181.5,620.34 185.5,621.26 189.5,621.75 193.5,618.35 197.5,627.11 201.5,632.59 205.5,631.28 209.5,626.14 213.5,624.48 217.5,629.86 221.5,635.34 225.5,634.65 229.5,632.22 233.5,629.24 237.5,629.67 241.5,632.72 245.5,629.10 249.5,626.72 253.5,619.37 257.5,621.29 261.5,621.29 265.5,623.89 269.5,626.95 273.5,624.88 277.5,632.59 281.5,638.25 285.5,639.75 289.5,645.57 293.5,650.12 297.5,653.54 301.5,647.56 305.5,648.64 309.5,648.64 313.5,643.43 317.5,638.31 321.5,639.06 325.5,621.61 329.5,624.94 333.5,624.70 337.5,632.48 341.5,626.42 345.5,619.40 349.5,612.53 353.5,616.22 357.5,616.09 361.5,617.74 365.5,627.28 369.5,621.00 373.5,629.68 377.5,627.51 381.5,630.02 385.5,625.96 389.5,631.55 393.5,628.31 397.5,632.18 401.5,628.56 405.5,629.69 409.5,630.85 413.5,638.24 417.5,635.76 421.5,638.75 425.5,639.35 429.5,639.77 433.5,637.74 437.5,639.15 441.5,634.52 445.5,632.34 449.5,633.46 453.5,633.46 457.5,633.46 461.5,628.46 465.5,628.46 469.5,633.73 473.5,630.76 477.5,631.49 481.5,631.49 485.5,634.24 489.5,635.03 493.5,637.81 497.5,623.09 501.5,622.85 505.5,624.55 509.5,627.51 513.5,626.31 517.5,635.32 521.5,638.35 525.5,635.16 529.5,632.13 533.5,634.75 537.5,631.98 541.5,629.64 545.5,626.48 549.5,626.94 553.5,630.17 557.5,633.69 561.5,636.22 565.5,629.71 569.5,624.64 573.5,625.58 577.5,624.94 581.5,625.46 585.5,616.39 589.5,627.61 593.5,626.48 597.5,628.57 601.5,634.04 605.5,640.08 609.5,638.61 613.5,638.95 617.5,648.53 621.5,648.11 625.5,650.14 629.5,645.36 633.5,649.78 637.5,644.84 641.5,642.49 645.5,641.30 649.5,640.89 653.5,640.01 657.5,641.15 661.5,641.15 665.5,643.20 669.5,642.63 673.5,647.82 677.5,648.91 681.5,640.86 685.5,637.81 689.5,636.30 693.5,636.30 697.5,637.38 701.5,642.02 705.5,643.47 709.5,642.12 713.5,642.66 717.5,642.66 721.5,657.55 725.5,658.37 729.5,660.23 733.5,661.73 737.5,655.74 741.5,653.58 745.5,656.76 749.5,650.50 753.5,655.81 757.5,655.81 761.5,653.03 765.5,653.71 769.5,653.71 773.5,656.52 777.5,643.47 781.5,645.16 785.5,634.64 789.5,637.40 793.5,641.67 797.5,642.89 801.5,642.32 805.5,637.89 809.5,646.87 813.5,644.70 817.5,646.21 821.5,647.34 825.5,657.06 829.5,650.60 833.5,643.56 837.5,643.89 841.5,646.18 845.5,649.81 849.5,651.77 853.5,646.17 857.5,647.74 861.5,647.21 865.5,649.83 869.5,654.40 873.5,653.81 877.5,654.38 881.5,648.86 885.5,647.67 889.5,651.16 893.5,651.16 897.5,656.70 901.5,657.24 905.5,660.76 909.5,661.23 913.5,663.04 917.5,665.81 921.5,665.05 925.5,657.09 929.5,657.90 933.5,659.50 937.5,660.03 941.5,649.52 945.5,653.99 949.5,654.29 953.5,652.92 957.5,653.27 961.5,659.27 965.5,663.27 969.5,666.97 973.5,661.98 977.5,658.95 981.5,655.95 985.5,645.42 989.5,649.75 993.5,639.39 997.5,635.25 1001.5,634.91 1005.5,636.01 1009.5,640.26 1013.5,637.11 1017.5,646.04 1021.5,652.75 1025.5,649.27 1029.5,649.93 1033.5,654.78 1037.5,650.80 1041.5,651.44 1045.5,648.56 1049.5,656.56 1053.5,656.16 1057.5,641.84 1061.5,642.07 1065.5,647.20 1069.5,645.31 1073.5,649.13 1077.5,648.46 1081.5,651.21 1085.5,653.07 1089.5,655.67 1093.5,648.45 1097.5,648.45 1101.5,648.67 1105.5,639.70 1109.5,639.38 1113.5,633.91 1117.5,635.74 1121.5,640.85 1125.5,640.85 1129.5,641.72 1133.5,644.31 1137.5,650.90 1141.5,655.49 1145.5,657.80 1149.5,658.28 1153.5,647.48 1157.5,650.48 1161.5,646.68 1165.5,649.19 1169.5,647.06 1173.5,648.83 1177.5,652.87 1181.5,655.53 1185.5,654.72 1189.5,648.47 1193.5,651.57 1197.5,652.37 1201.5,643.29 1205.5,642.95 1209.5,645.23 1213.5,646.96 1217.5,646.17 1221.5,645.74 1225.5,642.75 1229.5,647.17 1233.5,648.54 1237.5,651.42 1241.5,655.13 1245.5,655.78 1249.5,652.68 1253.5,652.94 1257.5,650.74 1261.5,644.06 1265.5,647.31" fill="none" stroke="#1e90ff" stroke-width="1" shape-rendering="crispEdges"/><rect x="1594" y="586" width="2" height="1" fill="#000"/><text x="1597.5" y="595" fill="#000" font-size="10" letter-spacing="-0.5" stroke="#000" stroke-width="0.2">100</text><rect x="1594" y="615" width="2" height="1" fill="#000"/><text x="1597.5" y="619" fill="#000" font-size="10" letter-spacing="-0.5" stroke="#000" stroke-width="0.2">70</text><rect x="1594" y="655" width="2" height="1" fill="#000"/><text x="1597.5" y="659" fill="#000" font-size="10" letter-spacing="-0.5" stroke="#000" stroke-width="0.2">30</text><rect x="1594" y="685" width="2" height="1" fill="#000"/><text x="1597.5" y="682" fill="#000" font-size="10" letter-spacing="-0.5" stroke="#000" stroke-width="0.2">0</text><text x="5.5" y="701.6" fill="#000" font-size="10" letter-spacing="-0.36" stroke="#000" stroke-width="0.2">MACD(12,26,9) -0.025419 -0.027170</text><g><rect x="1" y="739" width="1" height="1" fill="#c0c0c0"/><rect x="5" y="739" width="1" height="1" fill="#c0c0c0"/><rect x="9" y="739" width="1" height="1" fill="#c0c0c0"/><rect x="13" y="739" width="1" height="6" fill="#c0c0c0"/><rect x="17" y="739" width="1" height="7" fill="#c0c0c0"/><rect x="21" y="739" width="1" height="8" fill="#c0c0c0"/><rect x="25" y="739" width="1" height="11" fill="#c0c0c0"/><rect x="29" y="739" width="1" height="12" fill="#c0c0c0"/><rect x="33" y="739" width="1" height="13" fill="#c0c0c0"/><rect x="37" y="739" width="1" height="13" fill="#c0c0c0"/><rect x="41" y="739" width="1" height="13" fill="#c0c0c0"/><rect x="45" y="739" width="1" height="12" fill="#c0c0c0"/><rect x="49" y="739" width="1" height="11" fill="#c0c0c0"/><rect x="53" y="739" width="1" height="11" fill="#c0c0c0"/><rect x="57" y="739" width="1" height="10" fill="#c0c0c0"/><rect x="61" y="739" width="1" height="11" fill="#c0c0c0"/><rect x="65" y="739" width="1" height="11" fill="#c0c0c0"/><rect x="69" y="739" width="1" height="11" fill="#c0c0c0"/><rect x="73" y="739" width="1" height="13" fill="#c0c0c0"/><rect x="77" y="739" width="1" height="15" fill="#c0c0c0"/><rect x="81" y="739" width="1" height="17" fill="#c0c0c0"/><rect x="85" y="739" width="1" height="18" fill="#c0c0c0"/><rect x="89" y="739" width="1" height="19" fill="#c0c0c0"/><rect x="93" y="739" width="1" height="19" fill="#c0c0c0"/><rect x="97" y="739" width="1" height="18" fill="#c0c0c0"/><rect x="101" y="739" width="1" height="20" fill="#c0c0c0"/><rect x="105" y="739" width="1" height="21" fill="#c0c0c0"/><rect x="109" y="739" width="1" height="23" fill="#c0c0c0"/><rect x="113" y="739" width="1" height="26" fill="#c0c0c0"/><rect x="117" y="739" width="1" height="28" fill="#c0c0c0"/><rect x="121" y="739" width="1" height="32" fill="#c0c0c0"/><rect x="125" y="739" width="1" height="34" fill="#c0c0c0"/><rect x="129" y="739" width="1" height="35" fill="#c0c0c0"/><rect x="133" y="739" width="1" height="37" fill="#c0c0c0"/><rect x="137" y="739" width="1" height="39" fill="#c0c0c0"/><rect x="141" y="739" width="1" height="41" fill="#c0c0c0"/><rect x="145" y="739" width="1" height="41" fill="#c0c0c0"/><rect x="149" y="739" width="1" height="37" fill="#c0c0c0"/><rect x="153" y="739" width="1" height="33" fill="#c0c0c0"/><rect x="157" y="739" width="1" height="27" fill="#c0c0c0"/><rect x="161" y="739" width="1" height="23" fill="#c0c0c0"/><rect x="165" y="739" width="1" height="19" fill="#c0c0c0"/><rect x="169" y="739" width="1" height="11" fill="#c0c0c0"/><rect x="173" y="739" width="1" height="6" fill="#c0c0c0"/><rect x="177" y="739" width="1" height="2" fill="#c0c0c0"/><rect x="181" y="735" width="1" height="5" fill="#c0c0c0"/><rect x="185" y="730" width="1" height="10" fill="#c0c0c0"/><rect x="189" y="727" width="1" height="13" fill="#c0c0c0"/><rect x="193" y="722" width="1" height="18" fill="#c0c0c0"/><rect x="197" y="722" width="1" height="18" fill="#c0c0c0"/><rect x="201" y="723" width="1" height="17" fill="#c0c0c0"/><rect x="205" y="724" width="1" height="16" fill="#c0c0c0"/><rect x="209" y="723" width="1" height="17" fill="#c0c0c0"/><rect x="213" y="721" width="1" height="19" fill="#c0c0c0"/><rect x="217" y="722" width="1" height="18" fill="#c0c0c0"/><rect x="221" y="724" width="1" height="16" fill="#c0c0c0"/><rect x="225" y="726" width="1" height="14" fill="#c0c0c0"/><rect x="229" y="727" width="1" height="13" fill="#c0c0c0"/><rect x="233" y="727" width="1" height="13" fill="#c0c0c0"/><rect x="237" y="727" width="1" height="13" fill="#c0c0c0"/><rect x="241" y="728" width="1" height="12" fill="#c0c0c0"/><rect x="245" y="727" width="1" height="13" fill="#c0c0c0"/><rect x="249" y="726" width="1" height="14" fill="#c0c0c0"/><rect x="253" y="722" width="1" height="18" fill="#c0c0c0"/><rect x="257" y="720" width="1" height="20" fill="#c0c0c0"/><rect x="261" y="718" width="1" height="22" fill="#c0c0c0"/><rect x="265" y="718" width="1" height="22" fill="#c0c0c0"/><rect x="269" y="719" width="1" height="21" fill="#c0c0c0"/><rect x="273" y="719" width="1" height="21" fill="#c0c0c0"/><rect x="277" y="721" width="1" height="19" fill="#c0c0c0"/><rect x="281" y="725" width="1" height="15" fill="#c0c0c0"/><rect x="285" y="728" width="1" height="12" fill="#c0c0c0"/><rect x="289" y="733" width="1" height="7" fill="#c0c0c0"/><rect x="293" y="739" width="1" height="1" fill="#c0c0c0"/><rect x="297" y="739" width="1" height="7" fill="#c0c0c0"/><rect x="301" y="739" width="1" height="11" fill="#c0c0c0"/><rect x="305" y="739" width="1" height="14" fill="#c0c0c0"/><rect x="309" y="739" width="1" height="16" fill="#c0c0c0"/><rect x="313" y="739" width="1" height="16" fill="#c0c0c0"/><rect x="317" y="739" width="1" height="15" fill="#c0c0c0"/><rect x="321" y="739" width="1" height="14" fill="#c0c0c0"/><rect x="325" y="739" width="1" height="5" fill="#c0c0c0"/><rect x="329" y="739" width="1" height="1" fill="#c0c0c0"/><rect x="333" y="734" width="1" height="6" fill="#c0c0c0"/><rect x="337" y="734" width="1" height="6" fill="#c0c0c0"/><rect x="341" y="730" width="1" height="10" fill="#c0c0c0"/><rect x="345" y="723" width="1" height="17" fill="#c0c0c0"/><rect x="349" y="711" width="1" height="29" fill="#c0c0c0"/><rect x="353" y="704" width="1" height="36" fill="#c0c0c0"/><rect x="357" y="698" width="1" height="42" fill="#c0c0c0"/><rect x="361" y="695" width="1" height="45" fill="#c0c0c0"/><rect x="365" y="697" width="1" height="43" fill="#c0c0c0"/><rect x="369" y="694" width="1" height="46" fill="#c0c0c0"/><rect x="373" y="697" width="1" height="43" fill="#c0c0c0"/><rect x="377" y="698" width="1" height="42" fill="#c0c0c0"/><rect x="381" y="701" width="1" height="39" fill="#c0c0c0"/><rect x="385" y="701" width="1" height="39" fill="#c0c0c0"/><rect x="389" y="704" width="1" height="36" fill="#c0c0c0"/><rect x="393" y="704" width="1" height="36" fill="#c0c0c0"/><rect x="397" y="708" width="1" height="32" fill="#c0c0c0"/><rect x="401" y="708" width="1" height="32" fill="#c0c0c0"/><rect x="405" y="709" width="1" height="31" fill="#c0c0c0"/><rect x="409" y="711" width="1" height="29" fill="#c0c0c0"/><rect x="413" y="717" width="1" height="23" fill="#c0c0c0"/><rect x="417" y="720" width="1" height="20" fill="#c0c0c0"/><rect x="421" y="725" width="1" height="15" fill="#c0c0c0"/><rect x="425" y="730" width="1" height="10" fill="#c0c0c0"/><rect x="429" y="734" width="1" height="6" fill="#c0c0c0"/><rect x="433" y="736" width="1" height="4" fill="#c0c0c0"/><rect x="437" y="738" width="1" height="2" fill="#c0c0c0"/><rect x="441" y="738" width="1" height="2" fill="#c0c0c0"/><rect x="445" y="736" width="1" height="4" fill="#c0c0c0"/><rect x="449" y="736" width="1" height="4" fill="#c0c0c0"/><rect x="453" y="735" width="1" height="5" fill="#c0c0c0"/><rect x="457" y="735" width="1" height="5" fill="#c0c0c0"/><rect x="461" y="733" width="1" height="7" fill="#c0c0c0"/><rect x="465" y="731" width="1" height="9" fill="#c0c0c0"/><rect x="469" y="731" width="1" height="9" fill="#c0c0c0"/><rect x="473" y="731" width="1" height="9" fill="#c0c0c0"/><rect x="477" y="730" width="1" height="10" fill="#c0c0c0"/><rect x="481" y="730" width="1" height="10" fill="#c0c0c0"/><rect x="485" y="731" width="1" height="9" fill="#c0c0c0"/><rect x="489" y="732" width="1" height="8" fill="#c0c0c0"/><rect x="493" y="734" width="1" height="6" fill="#c0c0c0"/><rect x="497" y="730" width="1" height="10" fill="#c0c0c0"/><rect x="501" y="726" width="1" height="14" fill="#c0c0c0"/><rect x="505" y="724" width="1" height="16" fill="#c0c0c0"/><rect x="509" y="723" width="1" height="17" fill="#c0c0c0"/><rect x="513" y="723" width="1" height="17" fill="#c0c0c0"/><rect x="517" y="725" width="1" height="15" fill="#c0c0c0"/><rect x="521" y="728" width="1" height="12" fill="#c0c0c0"/><rect x="525" y="730" width="1" height="10" fill="#c0c0c0"/><rect x="529" y="730" width="1" height="10" fill="#c0c0c0"/><rect x="533" y="731" width="1" height="9" fill="#c0c0c0"/><rect x="537" y="731" width="1" height="9" fill="#c0c0c0"/><rect x="541" y="730" width="1" height="10" fill="#c0c0c0"/><rect x="545" y="729" width="1" height="11" fill="#c0c0c0"/><rect x="549" y="727" width="1" height="13" fill="#c0c0c0"/><rect x="553" y="728" width="1" height="12" fill="#c0c0c0"/><rect x="557" y="729" width="1" height="11" fill="#c0c0c0"/><rect x="561" y="731" width="1" height="9" fill="#c0c0c0"/><rect x="565" y="730" width="1" height="10" fill="#c0c0c0"/><rect x="569" y="728" width="1" height="12" fill="#c0c0c0"/><rect x="573" y="726" width="1" height="14" fill="#c0c0c0"/><rect x="577" y="725" width="1" height="15" fill="#c0c0c0"/><rect x="581" y="724" width="1" height="16" fill="#c0c0c0"/><rect x="585" y="720" width="1" height="20" fill="#c0c0c0"/><rect x="589" y="720" width="1" height="20" fill="#c0c0c0"/><rect x="593" y="719" width="1" height="21" fill="#c0c0c0"/><rect x="597" y="720" width="1" height="20" fill="#c0c0c0"/><rect x="601" y="722" width="1" height="18" fill="#c0c0c0"/><rect x="605" y="727" width="1" height="13" fill="#c0c0c0"/><rect x="609" y="730" width="1" height="10" fill="#c0c0c0"/><rect x="613" y="733" width="1" height="7" fill="#c0c0c0"/><rect x="617" y="739" width="1" height="1" fill="#c0c0c0"/><rect x="621" y="739" width="1" height="5" fill="#c0c0c0"/><rect x="625" y="739" width="1" height="10" fill="#c0c0c0"/><rect x="629" y="739" width="1" height="12" fill="#c0c0c0"/><rect x="633" y="739" width="1" height="16" fill="#c0c0c0"/><rect x="637" y="739" width="1" height="17" fill="#c0c0c0"/><rect x="641" y="739" width="1" height="17" fill="#c0c0c0"/><rect x="645" y="739" width="1" height="16" fill="#c0c0c0"/><rect x="649" y="739" width="1" height="16" fill="#c0c0c0"/><rect x="653" y="739" width="1" height="15" fill="#c0c0c0"/><rect x="657" y="739" width="1" height="14" fill="#c0c0c0"/><rect x="661" y="739" width="1" height="14" fill="#c0c0c0"/><rect x="665" y="739" width="1" height="14" fill="#c0c0c0"/><rect x="669" y="739" width="1" height="13" fill="#c0c0c0"/><rect x="673" y="739" width="1" height="15" fill="#c0c0c0"/><rect x="677" y="739" width="1" height="16" fill="#c0c0c0"/><rect x="681" y="739" width="1" height="15" fill="#c0c0c0"/><rect x="685" y="739" width="1" height="13" fill="#c0c0c0"/><rect x="689" y="739" width="1" height="11" fill="#c0c0c0"/><rect x="693" y="739" width="1" height="10" fill="#c0c0c0"/><rect x="697" y="739" width="1" height="9" fill="#c0c0c0"/><rect x="701" y="739" width="1" height="9" fill="#c0c0c0"/><rect x="705" y="739" width="1" height="9" fill="#c0c0c0"/><rect x="709" y="739" width="1" height="9" fill="#c0c0c0"/><rect x="713" y="739" width="1" height="9" fill="#c0c0c0"/><rect x="717" y="739" width="1" height="9" fill="#c0c0c0"/><rect x="721" y="739" width="1" height="14" fill="#c0c0c0"/><rect x="725" y="739" width="1" height="18" fill="#c0c0c0"/><rect x="729" y="739" width="1" height="21" fill="#c0c0c0"/><rect x="733" y="739" width="1" height="25" fill="#c0c0c0"/><rect x="737" y="739" width="1" height="26" fill="#c0c0c0"/><rect x="741" y="739" width="1" height="27" fill="#c0c0c0"/><rect x="745" y="739" width="1" height="28" fill="#c0c0c0"/><rect x="749" y="739" width="1" height="27" fill="#c0c0c0"/><rect x="753" y="739" width="1" height="29" fill="#c0c0c0"/><rect x="757" y="739" width="1" height="30" fill="#c0c0c0"/><rect x="761" y="739" width="1" height="30" fill="#c0c0c0"/><rect x="765" y="739" width="1" height="29" fill="#c0c0c0"/><rect x="769" y="739" width="1" height="29" fill="#c0c0c0"/><rect x="773" y="739" width="1" height="29" fill="#c0c0c0"/><rect x="777" y="739" width="1" height="27" fill="#c0c0c0"/><rect x="781" y="739" width="1" height="25" fill="#c0c0c0"/><rect x="785" y="739" width="1" height="21" fill="#c0c0c0"/><rect x="789" y="739" width="1" height="18" fill="#c0c0c0"/><rect x="793" y="739" width="1" height="17" fill="#c0c0c0"/><rect x="797" y="739" width="1" height="16" fill="#c0c0c0"/><rect x="801" y="739" width="1" height="15" fill="#c0c0c0"/><rect x="805" y="739" width="1" height="14" fill="#c0c0c0"/><rect x="809" y="739" width="1" height="15" fill="#c0c0c0"/><rect x="813" y="739" width="1" height="15" fill="#c0c0c0"/><rect x="817" y="739" width="1" height="16" fill="#c0c0c0"/><rect x="821" y="739" width="1" height="16" fill="#c0c0c0"/><rect x="825" y="739" width="1" height="21" fill="#c0c0c0"/><rect x="829" y="739" width="1" height="23" fill="#c0c0c0"/><rect x="833" y="739" width="1" height="22" fill="#c0c0c0"/><rect x="837" y="739" width="1" height="21" fill="#c0c0c0"/><rect x="841" y="739" width="1" height="21" fill="#c0c0c0"/><rect x="845" y="739" width="1" height="23" fill="#c0c0c0"/><rect x="849" y="739" width="1" height="24" fill="#c0c0c0"/><rect x="853" y="739" width="1" height="24" fill="#c0c0c0"/><rect x="857" y="739" width="1" height="24" fill="#c0c0c0"/><rect x="861" y="739" width="1" height="24" fill="#c0c0c0"/><rect x="865" y="739" width="1" height="24" fill="#c0c0c0"/><rect x="869" y="739" width="1" height="27" fill="#c0c0c0"/><rect x="873" y="739" width="1" height="28" fill="#c0c0c0"/><rect x="877" y="739" width="1" height="29" fill="#c0c0c0"/><rect x="881" y="739" width="1" height="28" fill="#c0c0c0"/><rect x="885" y="739" width="1" height="27" fill="#c0c0c0"/><rect x="889" y="739" width="1" height="27" fill="#c0c0c0"/><rect x="893" y="739" width="1" height="27" fill="#c0c0c0"/><rect x="897" y="739" width="1" height="29" fill="#c0c0c0"/><rect x="901" y="739" width="1" height="30" fill="#c0c0c0"/><rect x="905" y="739" width="1" height="32" fill="#c0c0c0"/><rect x="909" y="739" width="1" height="34" fill="#c0c0c0"/><rect x="913" y="739" width="1" height="36" fill="#c0c0c0"/><rect x="917" y="739" width="1" height="39" fill="#c0c0c0"/><rect x="921" y="739" width="1" height="41" fill="#c0c0c0"/><rect x="925" y="739" width="1" height="41" fill="#c0c0c0"/><rect x="929" y="739" width="1" height="40" fill="#c0c0c0"/><rect x="933" y="739" width="1" height="40" fill="#c0c0c0"/><rect x="937" y="739" width="1" height="40" fill="#c0c0c0"/><rect x="941" y="739" width="1" height="38" fill="#c0c0c0"/><rect x="945" y="739" width="1" height="37" fill="#c0c0c0"/><rect x="949" y="739" width="1" height="36" fill="#c0c0c0"/><rect x="953" y="739" width="1" height="35" fill="#c0c0c0"/><rect x="957" y="739" width="1" height="34" fill="#c0c0c0"/><rect x="961" y="739" width="1" height="35" fill="#c0c0c0"/><rect x="965" y="739" width="1" height="38" fill="#c0c0c0"/><rect x="969" y="739" width="1" height="42" fill="#c0c0c0"/><rect x="973" y="739" width="1" height="44" fill="#c0c0c0"/><rect x="977" y="739" width="1" height="45" fill="#c0c0c0"/><rect x="981" y="739" width="1" height="44" fill="#c0c0c0"/><rect x="985" y="739" width="1" height="41" fill="#c0c0c0"/><rect x="989" y="739" width="1" height="39" fill="#c0c0c0"/><rect x="993" y="739" width="1" height="34" fill="#c0c0c0"/><rect x="997" y="739" width="1" height="29" fill="#c0c0c0"/><rect x="1001" y="739" width="1" height="24" fill="#c0c0c0"/><rect x="1005" y="739" width="1" height="20" fill="#c0c0c0"/><rect x="1009" y="739" width="1" height="19" fill="#c0c0c0"/><rect x="1013" y="739" width="1" height="16" fill="#c0c0c0"/><rect x="1017" y="739" width="1" height="18" fill="#c0c0c0"/><rect x="1021" y="739" width="1" height="23" fill="#c0c0c0"/><rect x="1025" y="739" width="1" height="25" fill="#c0c0c0"/><rect x="1029" y="739" width="1" height="27" fill="#c0c0c0"/><rect x="1033" y="739" width="1" height="31" fill="#c0c0c0"/><rect x="1037" y="739" width="1" height="33" fill="#c0c0c0"/><rect x="1041" y="739" width="1" height="35" fill="#c0c0c0"/><rect x="1045" y="739" width="1" height="34" fill="#c0c0c0"/><rect x="1049" y="739" width="1" height="39" fill="#c0c0c0"/><rect x="1053" y="739" width="1" height="42" fill="#c0c0c0"/><rect x="1057" y="739" width="1" height="39" fill="#c0c0c0"/><rect x="1061" y="739" width="1" height="36" fill="#c0c0c0"/><rect x="1065" y="739" width="1" height="36" fill="#c0c0c0"/><rect x="1069" y="739" width="1" height="35" fill="#c0c0c0"/><rect x="1073" y="739" width="1" height="37" fill="#c0c0c0"/><rect x="1077" y="739" width="1" height="37" fill="#c0c0c0"/><rect x="1081" y="739" width="1" height="39" fill="#c0c0c0"/><rect x="1085" y="739" width="1" height="41" fill="#c0c0c0"/><rect x="1089" y="739" width="1" height="44" fill="#c0c0c0"/><rect x="1093" y="739" width="1" height="43" fill="#c0c0c0"/><rect x="1097" y="739" width="1" height="42" fill="#c0c0c0"/><rect x="1101" y="739" width="1" height="41" fill="#c0c0c0"/><rect x="1105" y="739" width="1" height="37" fill="#c0c0c0"/><rect x="1109" y="739" width="1" height="32" fill="#c0c0c0"/><rect x="1113" y="739" width="1" height="27" fill="#c0c0c0"/><rect x="1117" y="739" width="1" height="22" fill="#c0c0c0"/><rect x="1121" y="739" width="1" height="21" fill="#c0c0c0"/><rect x="1125" y="739" width="1" height="20" fill="#c0c0c0"/><rect x="1129" y="739" width="1" height="19" fill="#c0c0c0"/><rect x="1133" y="739" width="1" height="19" fill="#c0c0c0"/><rect x="1137" y="739" width="1" height="23" fill="#c0c0c0"/><rect x="1141" y="739" width="1" height="29" fill="#c0c0c0"/><rect x="1145" y="739" width="1" height="34" fill="#c0c0c0"/><rect x="1149" y="739" width="1" height="39" fill="#c0c0c0"/><rect x="1153" y="739" width="1" height="38" fill="#c0c0c0"/><rect x="1157" y="739" width="1" height="40" fill="#c0c0c0"/><rect x="1161" y="739" width="1" height="39" fill="#c0c0c0"/><rect x="1165" y="739" width="1" height="39" fill="#c0c0c0"/><rect x="1169" y="739" width="1" height="38" fill="#c0c0c0"/><rect x="1173" y="739" width="1" height="38" fill="#c0c0c0"/><rect x="1177" y="739" width="1" height="40" fill="#c0c0c0"/><rect x="1181" y="739" width="1" height="43" fill="#c0c0c0"/><rect x="1185" y="739" width="1" height="45" fill="#c0c0c0"/><rect x="1189" y="739" width="1" height="43" fill="#c0c0c0"/><rect x="1193" y="739" width="1" height="44" fill="#c0c0c0"/><rect x="1197" y="739" width="1" height="44" fill="#c0c0c0"/><rect x="1201" y="739" width="1" height="41" fill="#c0c0c0"/><rect x="1205" y="739" width="1" height="38" fill="#c0c0c0"/><rect x="1209" y="739" width="1" height="36" fill="#c0c0c0"/><rect x="1213" y="739" width="1" height="35" fill="#c0c0c0"/><rect x="1217" y="739" width="1" height="33" fill="#c0c0c0"/><rect x="1221" y="739" width="1" height="32" fill="#c0c0c0"/><rect x="1225" y="739" width="1" height="29" fill="#c0c0c0"/><rect x="1229" y="739" width="1" height="29" fill="#c0c0c0"/><rect x="1233" y="739" width="1" height="29" fill="#c0c0c0"/><rect x="1237" y="739" width="1" height="30" fill="#c0c0c0"/><rect x="1241" y="739" width="1" height="33" fill="#c0c0c0"/><rect x="1245" y="739" width="1" height="35" fill="#c0c0c0"/><rect x="1249" y="739" width="1" height="35" fill="#c0c0c0"/><rect x="1253" y="739" width="1" height="35" fill="#c0c0c0"/><rect x="1257" y="739" width="1" height="34" fill="#c0c0c0"/><rect x="1261" y="739" width="1" height="32" fill="#c0c0c0"/><rect x="1265" y="739" width="1" height="30" fill="#c0c0c0"/></g><polyline points="1.5,740.0 5.5,739.5 9.5,739.2 13.5,739.7 17.5,740.6 21.5,741.7 25.5,743.1 29.5,744.6 33.5,746.0 37.5,747.3 41.5,748.7 45.5,750.0 49.5,750.6 53.5,751.0 57.5,751.2 61.5,751.2 65.5,751.1 69.5,751.0 73.5,751.0 77.5,751.2 81.5,751.7 85.5,752.5 89.5,753.4 93.5,754.4 97.5,755.2 101.5,756.2 105.5,757.3 109.5,758.4 113.5,759.7 117.5,760.9 121.5,762.4 125.5,764.1 129.5,765.9 133.5,768.0 137.5,770.2 141.5,772.4 145.5,774.3 149.5,775.5 153.5,776.1 157.5,775.6 161.5,774.3 165.5,772.5 169.5,769.5 173.5,765.7 177.5,761.4 181.5,756.4 185.5,751.3 189.5,746.3 193.5,741.4 197.5,737.0 201.5,733.2 205.5,730.3 209.5,727.9 213.5,725.7 217.5,724.3 221.5,723.7 225.5,723.7 229.5,724.2 233.5,724.8 237.5,725.1 241.5,725.5 245.5,726.0 249.5,726.6 253.5,726.6 257.5,726.1 261.5,725.2 265.5,724.2 269.5,723.3 273.5,722.4 277.5,721.6 281.5,721.3 285.5,721.5 289.5,722.7 293.5,724.9 297.5,728.0 301.5,731.6 305.5,735.4 309.5,739.4 313.5,743.2 317.5,746.5 321.5,749.2 325.5,750.3 329.5,750.2 333.5,748.9 337.5,747.1 341.5,744.6 345.5,741.0 349.5,736.1 353.5,730.5 357.5,724.5 361.5,719.0 365.5,714.4 369.5,709.9 373.5,705.9 377.5,702.3 381.5,699.9 385.5,698.8 389.5,698.8 393.5,699.5 397.5,700.9 401.5,702.1 405.5,703.7 409.5,705.2 413.5,707.3 417.5,709.5 421.5,712.2 425.5,715.1 429.5,718.4 433.5,721.5 437.5,724.9 441.5,728.2 445.5,731.0 449.5,733.1 453.5,734.8 457.5,735.9 461.5,736.2 465.5,735.8 469.5,735.3 473.5,734.5 477.5,733.7 481.5,733.0 485.5,732.5 489.5,732.2 493.5,732.1 497.5,731.7 501.5,731.2 505.5,730.4 509.5,729.6 513.5,728.7 517.5,728.1 521.5,727.8 525.5,727.6 529.5,727.1 533.5,727.3 537.5,727.9 541.5,728.6 545.5,729.1 549.5,729.7 553.5,729.9 557.5,730.0 561.5,730.0 565.5,730.0 569.5,729.6 573.5,729.1 577.5,728.4 581.5,727.9 585.5,727.1 589.5,726.2 593.5,725.1 597.5,723.9 601.5,723.1 605.5,723.0 609.5,723.4 613.5,724.3 617.5,725.9 621.5,728.6 625.5,731.8 629.5,735.3 633.5,739.2 637.5,742.9 641.5,746.2 645.5,749.0 649.5,751.5 653.5,753.2 657.5,754.2 661.5,754.6 665.5,754.8 669.5,754.6 673.5,754.3 677.5,754.2 681.5,754.0 685.5,753.7 689.5,753.4 693.5,752.9 697.5,752.3 701.5,751.8 705.5,751.4 709.5,750.8 713.5,750.0 717.5,749.4 721.5,749.5 725.5,750.2 729.5,751.5 733.5,753.2 737.5,755.1 741.5,757.1 745.5,759.1 749.5,761.1 753.5,763.3 757.5,765.1 761.5,766.4 765.5,767.3 769.5,767.7 773.5,768.1 777.5,768.1 781.5,767.8 785.5,767.1 789.5,765.8 793.5,764.4 797.5,762.9 801.5,761.4 805.5,759.7 809.5,758.1 813.5,756.8 817.5,755.8 821.5,755.3 825.5,755.6 829.5,756.2 833.5,756.9 837.5,757.5 841.5,758.4 845.5,759.2 849.5,760.3 853.5,761.2 857.5,762.1 861.5,762.4 865.5,762.6 869.5,763.1 873.5,763.9 877.5,764.7 881.5,765.3 885.5,765.6 889.5,765.9 893.5,766.2 897.5,766.7 901.5,767.3 905.5,768.0 909.5,768.7 913.5,769.5 917.5,770.8 921.5,772.4 925.5,773.9 929.5,775.4 933.5,776.7 937.5,777.9 941.5,778.4 945.5,778.7 949.5,778.7 953.5,778.2 957.5,777.3 961.5,776.7 965.5,776.4 969.5,776.6 973.5,777.1 977.5,777.9 981.5,778.7 985.5,779.2 989.5,779.7 993.5,779.7 997.5,779.1 1001.5,777.6 1005.5,775.1 1009.5,772.3 1013.5,769.1 1017.5,766.1 1021.5,764.2 1025.5,762.6 1029.5,761.8 1033.5,762.1 1037.5,763.1 1041.5,764.7 1045.5,766.5 1049.5,769.0 1053.5,771.7 1057.5,773.5 1061.5,774.7 1065.5,775.7 1069.5,776.1 1073.5,776.5 1077.5,776.8 1081.5,777.2 1085.5,777.4 1089.5,777.6 1093.5,778.1 1097.5,778.8 1101.5,779.4 1105.5,779.5 1109.5,779.1 1113.5,777.9 1117.5,776.1 1121.5,773.9 1125.5,771.3 1129.5,768.6 1133.5,766.0 1137.5,764.0 1141.5,763.1 1145.5,763.3 1149.5,764.7 1153.5,766.5 1157.5,768.5 1161.5,770.6 1165.5,772.8 1169.5,774.9 1173.5,776.5 1177.5,777.8 1181.5,778.7 1185.5,779.4 1189.5,779.9 1193.5,780.4 1197.5,781.0 1201.5,781.2 1205.5,781.2 1209.5,780.9 1213.5,780.3 1217.5,779.3 1221.5,777.9 1225.5,776.3 1229.5,774.6 1233.5,773.0 1237.5,771.8 1241.5,771.2 1245.5,771.1 1249.5,771.2 1253.5,771.4 1257.5,771.6 1261.5,771.9 1265.5,772.1" fill="none" stroke="#ff0000" stroke-width="1" stroke-dasharray="3,3" shape-rendering="crispEdges"/><rect x="1594" y="690" width="2" height="1" fill="#000"/><text x="1597.5" y="699" fill="#000" font-size="10" letter-spacing="-0.5" stroke="#000" stroke-width="0.2">0.042275</text><rect x="1594" y="739" width="2" height="1" fill="#000"/><text x="1597.5" y="743" fill="#000" font-size="10" letter-spacing="-0.5" stroke="#000" stroke-width="0.2">0.00</text><rect x="1594" y="788" width="2" height="1" fill="#000"/><text x="1597.5" y="785.8" fill="#000" font-size="10" letter-spacing="-0.5" stroke="#000" stroke-width="0.2">-0.04148</text><rect x="1" y="790" width="1" height="3" fill="#000"/><text x="0" y="802" fill="#000" font-size="10" letter-spacing="-0.5" stroke="#000" stroke-width="0.2">9 Dec 2019</text><rect x="65" y="790" width="1" height="3" fill="#000"/><text x="64" y="802" fill="#000" font-size="10" letter-spacing="-0.5" stroke="#000" stroke-width="0.2">27 Dec 2019</text><rect x="129" y="790" width="1" height="3" fill="#000"/><text x="128" y="802" fill="#000" font-size="10" letter-spacing="-0.5" stroke="#000" stroke-width="0.2">15 Jan 2020</text><rect x="193" y="790" width="1" height="3" fill="#000"/><text x="192" y="802" fill="#000" font-size="10" letter-spacing="-0.5" stroke="#000" stroke-width="0.2">3 Feb 2020</text><rect x="257" y="790" width="1" height="3" fill="#000"/><text x="256" y="802" fill="#000" font-size="10" letter-spacing="-0.5" stroke="#000" stroke-width="0.2">21 Feb 2020</text><rect x="321" y="790" width="1" height="3" fill="#000"/><text x="320" y="802" fill="#000" font-size="10" letter-spacing="-0.5" stroke="#000" stroke-width="0.2">11 Mar 2020</text><rect x="385" y="790" width="1" height="3" fill="#000"/><text x="384" y="802" fill="#000" font-size="10" letter-spacing="-0.5" stroke="#000" stroke-width="0.2">30 Mar 2020</text><rect x="449" y="790" width="1" height="3" fill="#000"/><text x="448" y="802" fill="#000" font-size="10" letter-spacing="-0.5" stroke="#000" stroke-width="0.2">17 Apr 2020</text><rect x="513" y="790" width="1" height="3" fill="#000"/><text x="512" y="802" fill="#000" font-size="10" letter-spacing="-0.5" stroke="#000" stroke-width="0.2">6 May 2020</text><rect x="577" y="790" width="1" height="3" fill="#000"/><text x="576" y="802" fill="#000" font-size="10" letter-spacing="-0.5" stroke="#000" stroke-width="0.2">25 May 2020</text><rect x="641" y="790" width="1" height="3" fill="#000"/><text x="640" y="802" fill="#000" font-size="10" letter-spacing="-0.5" stroke="#000" stroke-width="0.2">12 Jun 2020</text><rect x="705" y="790" width="1" height="3" fill="#000"/><text x="704" y="802" fill="#000" font-size="10" letter-spacing="-0.5" stroke="#000" stroke-width="0.2">1 Jul 2020</text><rect x="769" y="790" width="1" height="3" fill="#000"/><text x="768" y="802" fill="#000" font-size="10" letter-spacing="-0.5" stroke="#000" stroke-width="0.2">20 Jul 2020</text><rect x="833" y="790" width="1" height="3" fill="#000"/><text x="832" y="802" fill="#000" font-size="10" letter-spacing="-0.5" stroke="#000" stroke-width="0.2">7 Aug 2020</text><rect x="897" y="790" width="1" height="3" fill="#000"/><text x="896" y="802" fill="#000" font-size="10" letter-spacing="-0.5" stroke="#000" stroke-width="0.2">26 Aug 2020</text><rect x="961" y="790" width="1" height="3" fill="#000"/><text x="960" y="802" fill="#000" font-size="10" letter-spacing="-0.5" stroke="#000" stroke-width="0.2">14 Sep 2020</text><rect x="1025" y="790" width="1" height="3" fill="#000"/><text x="1024" y="802" fill="#000" font-size="10" letter-spacing="-0.5" stroke="#000" stroke-width="0.2">2 Oct 2020</text><rect x="1089" y="790" width="1" height="3" fill="#000"/><text x="1088" y="802" fill="#000" font-size="10" letter-spacing="-0.5" stroke="#000" stroke-width="0.2">21 Oct 2020</text><rect x="1153" y="790" width="1" height="3" fill="#000"/><text x="1152" y="802" fill="#000" font-size="10" letter-spacing="-0.5" stroke="#000" stroke-width="0.2">9 Nov 2020</text><rect x="1217" y="790" width="1" height="3" fill="#000"/><text x="1216" y="802" fill="#000" font-size="10" letter-spacing="-0.5" stroke="#000" stroke-width="0.2">27 Nov 2020</text><rect x="0" y="810" width="1639" height="1" fill="#e3e3e3"/><rect x="0" y="812" width="1639" height="1" fill="#000"/><rect x="0" y="814" width="1639" height="18" fill="#f0f0f0"/><rect x="414" y="812" width="104" height="19" fill="#ffffff"/><rect x="414" y="812" width="1" height="19" fill="#000"/><rect x="517" y="812" width="1" height="19" fill="#000"/><rect x="414" y="830" width="104" height="1" fill="#000"/><text x="14" y="827" fill="#555555" font-size="12.5" letter-spacing="-0.28">EURUSD,Daily</text><text x="115.8" y="827" fill="#555555" font-size="12.5" letter-spacing="-0.28">USDCHF,Daily</text><text x="217" y="827" fill="#555555" font-size="12.5" letter-spacing="-0.28">AUDUSD,Daily</text><text x="321" y="827" fill="#555555" font-size="12.5" letter-spacing="-0.28">USDCAD,Daily</text><text x="424.5" y="827" fill="#050505" font-size="12.5" letter-spacing="-0.28">USDCNH,Daily</text><text x="530" y="827" fill="#555555" font-size="12.5" letter-spacing="-0.28">EURUSD,Daily</text><text x="634" y="827" fill="#555555" font-size="12.5" letter-spacing="-0.28">GBPUSD,H4</text><text x="725" y="827" fill="#555555" font-size="12.5" letter-spacing="-0.28">XAUUSD,H1</text><text x="817" y="827" fill="#555555" font-size="12.5" letter-spacing="-0.28">HK50,H1</text><text x="889" y="827" fill="#555555" font-size="12.5" letter-spacing="-0.28">UK100,H1</text><text x="969" y="827" fill="#555555" font-size="12.5" letter-spacing="-0.28">UK100,H1</text><text x="1049" y="827" fill="#555555" font-size="12.5" letter-spacing="-0.28">GER30,H1</text><text x="1127.7" y="827" fill="#555555" font-size="12.5" letter-spacing="-0.28">FRA40,H1</text><text x="1204.5" y="827" fill="#555555" font-size="12.5" letter-spacing="-0.28">USOil,Daily</text><text x="1288.5" y="827" fill="#555555" font-size="12.5" letter-spacing="-0.28">USDJPY,H1</text><text x="1371.9" y="827" fill="#555555" font-size="12.5" letter-spacing="-0.28">DJ30,Daily</text><text x="1452.3" y="827" fill="#555555" font-size="12.5" letter-spacing="-0.28">CHINA300,H1</text><text x="1552.4" y="827" fill="#555555" font-size="12.5" letter-spacing="-0.28">USOil,H1</text><rect x="106" y="816" width="1" height="14" fill="#6d6d6d"/><rect x="206" y="816" width="1" height="14" fill="#6d6d6d"/><rect x="310" y="816" width="1" height="14" fill="#6d6d6d"/><rect x="622" y="816" width="1" height="14" fill="#6d6d6d"/><rect x="714" y="816" width="1" height="14" fill="#6d6d6d"/><rect x="806" y="816" width="1" height="14" fill="#6d6d6d"/><rect x="879" y="816" width="1" height="14" fill="#6d6d6d"/><rect x="958" y="816" width="1" height="14" fill="#6d6d6d"/><rect x="1038" y="816" width="1" height="14" fill="#6d6d6d"/><rect x="1118" y="816" width="1" height="14" fill="#6d6d6d"/><rect x="1194" y="816" width="1" height="14" fill="#6d6d6d"/><rect x="1278" y="816" width="1" height="14" fill="#6d6d6d"/><rect x="1362" y="816" width="1" height="14" fill="#6d6d6d"/><rect x="1442" y="816" width="1" height="14" fill="#6d6d6d"/><rect x="1542" y="816" width="1" height="14" fill="#6d6d6d"/><path d="M1612 818v7l-3.5-3.5z" fill="#808080"/><path d="M1628 818v7l3.5-3.5z" fill="#000"/></svg></body></html>
